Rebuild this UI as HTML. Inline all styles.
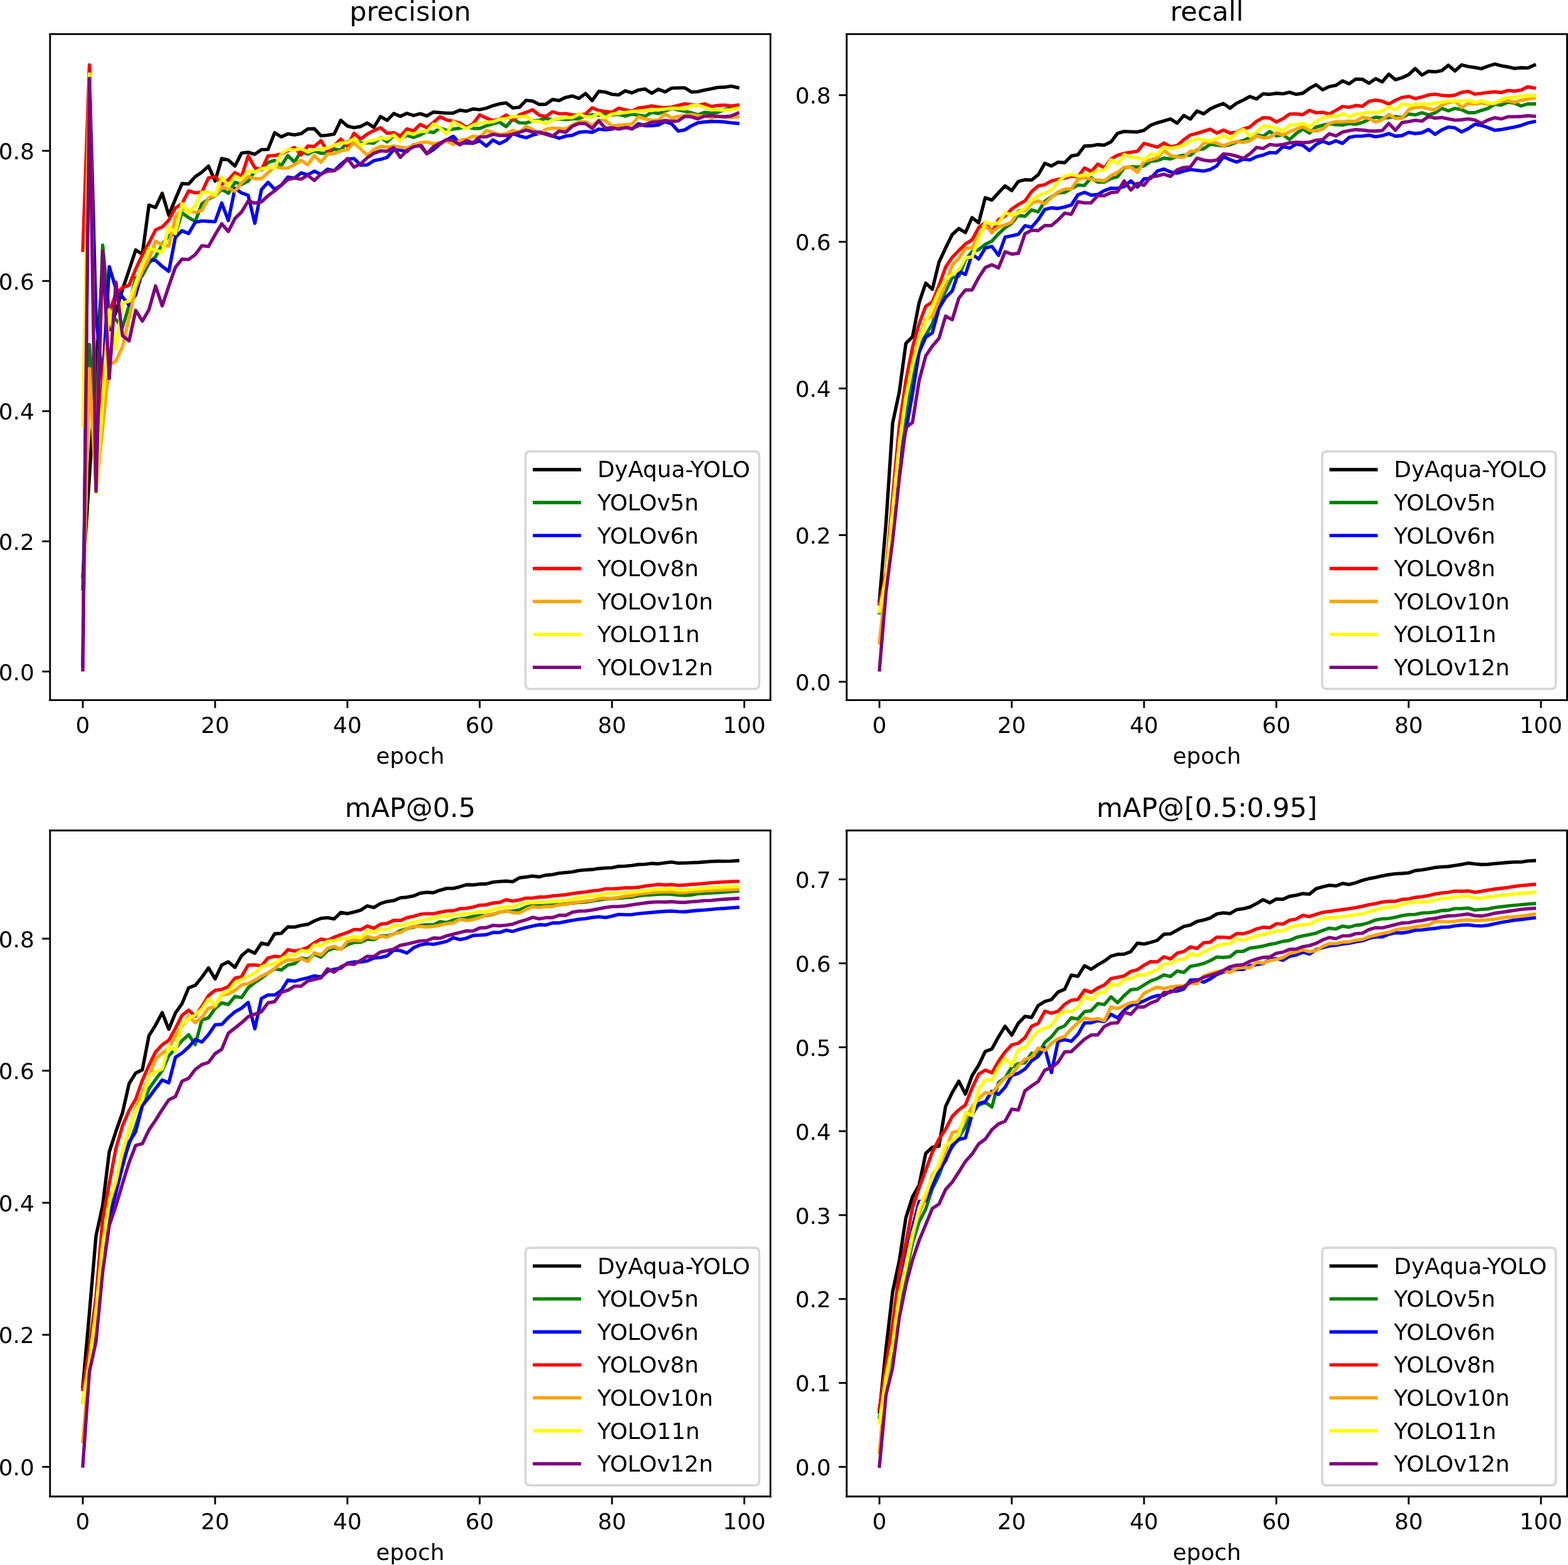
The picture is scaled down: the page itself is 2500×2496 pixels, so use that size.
<!DOCTYPE html>
<html lang="en">
<head>
<meta charset="utf-8">
<title>YOLO training metrics: precision, recall, mAP</title>
<style>
html, body { margin: 0; padding: 0; background: #ffffff; }
body { width: 2500px; height: 2496px; overflow: hidden; font-family: "DejaVu Sans", "Liberation Sans", sans-serif; }
svg { display: block; }
</style>
</head>
<body>
<svg xmlns="http://www.w3.org/2000/svg" width="2500" height="2496" viewBox="11.3610 11.6930 697.9536 696.8369" preserveAspectRatio="none">
 <defs>
  <style type="text/css">*{stroke-linejoin: round; stroke-linecap: butt}</style>
 </defs>
 <g id="figure_1">
  <g id="patch_1">
   <path d="M 0 720 L 720 720 L 720 0 L 0 0 z" style="fill: #ffffff"/>
  </g>
  <g id="axes_1">
   <g id="patch_2">
    <path d="M 33.64 323.44 L 354.30485 323.44 L 354.30485 26.88 L 33.64 26.88 z" style="fill: #ffffff"/>
   </g>
   <g id="matplotlib.axis_1">
    <g id="xtick_1">
     <g id="line2d_1">
      <g>
       <path d="M 0 0 L 0 3.5" transform="translate(48.215675 323.44)" style="stroke: #000000; stroke-width: 0.8"/>
      </g>
     </g>
     <g id="text_1">
      <text style="font-size: 10px; font-family: 'DejaVu Sans', 'Liberation Sans', sans-serif; text-anchor: middle" x="48.215675" y="338.038438">0</text>
     </g>
    </g>
    <g id="xtick_2">
     <g id="line2d_2">
      <g>
       <path d="M 0 0 L 0 3.5" transform="translate(107.107291 323.44)" style="stroke: #000000; stroke-width: 0.8"/>
      </g>
     </g>
     <g id="text_2">
      <text style="font-size: 10px; font-family: 'DejaVu Sans', 'Liberation Sans', sans-serif; text-anchor: middle" x="107.107291" y="338.038438">20</text>
     </g>
    </g>
    <g id="xtick_3">
     <g id="line2d_3">
      <g>
       <path d="M 0 0 L 0 3.5" transform="translate(165.998907 323.44)" style="stroke: #000000; stroke-width: 0.8"/>
      </g>
     </g>
     <g id="text_3">
      <text style="font-size: 10px; font-family: 'DejaVu Sans', 'Liberation Sans', sans-serif; text-anchor: middle" x="165.998907" y="338.038438">40</text>
     </g>
    </g>
    <g id="xtick_4">
     <g id="line2d_4">
      <g>
       <path d="M 0 0 L 0 3.5" transform="translate(224.890523 323.44)" style="stroke: #000000; stroke-width: 0.8"/>
      </g>
     </g>
     <g id="text_4">
      <text style="font-size: 10px; font-family: 'DejaVu Sans', 'Liberation Sans', sans-serif; text-anchor: middle" x="224.890523" y="338.038438">60</text>
     </g>
    </g>
    <g id="xtick_5">
     <g id="line2d_5">
      <g>
       <path d="M 0 0 L 0 3.5" transform="translate(283.782139 323.44)" style="stroke: #000000; stroke-width: 0.8"/>
      </g>
     </g>
     <g id="text_5">
      <text style="font-size: 10px; font-family: 'DejaVu Sans', 'Liberation Sans', sans-serif; text-anchor: middle" x="283.782139" y="338.038438">80</text>
     </g>
    </g>
    <g id="xtick_6">
     <g id="line2d_6">
      <g>
       <path d="M 0 0 L 0 3.5" transform="translate(342.673756 323.44)" style="stroke: #000000; stroke-width: 0.8"/>
      </g>
     </g>
     <g id="text_6">
      <text style="font-size: 10px; font-family: 'DejaVu Sans', 'Liberation Sans', sans-serif; text-anchor: middle" x="342.673756" y="338.038438">100</text>
     </g>
    </g>
    <g id="text_7">
     <text style="font-size: 10px; font-family: 'DejaVu Sans', 'Liberation Sans', sans-serif; text-anchor: middle" x="193.972425" y="351.716563">epoch</text>
    </g>
   </g>
   <g id="matplotlib.axis_2">
    <g id="ytick_1">
     <g id="line2d_7">
      <g>
       <path d="M 0 0 L -3.5 0" transform="translate(33.64 310.695388)" style="stroke: #000000; stroke-width: 0.8"/>
      </g>
     </g>
     <g id="text_8">
      <text style="font-size: 10px; font-family: 'DejaVu Sans', 'Liberation Sans', sans-serif; text-anchor: end" x="26.64" y="314.494607">0.0</text>
     </g>
    </g>
    <g id="ytick_2">
     <g id="line2d_8">
      <g>
       <path d="M 0 0 L -3.5 0" transform="translate(33.64 252.731832)" style="stroke: #000000; stroke-width: 0.8"/>
      </g>
     </g>
     <g id="text_9">
      <text style="font-size: 10px; font-family: 'DejaVu Sans', 'Liberation Sans', sans-serif; text-anchor: end" x="26.64" y="256.531051">0.2</text>
     </g>
    </g>
    <g id="ytick_3">
     <g id="line2d_9">
      <g>
       <path d="M 0 0 L -3.5 0" transform="translate(33.64 194.768276)" style="stroke: #000000; stroke-width: 0.8"/>
      </g>
     </g>
     <g id="text_10">
      <text style="font-size: 10px; font-family: 'DejaVu Sans', 'Liberation Sans', sans-serif; text-anchor: end" x="26.64" y="198.567495">0.4</text>
     </g>
    </g>
    <g id="ytick_4">
     <g id="line2d_10">
      <g>
       <path d="M 0 0 L -3.5 0" transform="translate(33.64 136.804721)" style="stroke: #000000; stroke-width: 0.8"/>
      </g>
     </g>
     <g id="text_11">
      <text style="font-size: 10px; font-family: 'DejaVu Sans', 'Liberation Sans', sans-serif; text-anchor: end" x="26.64" y="140.603939">0.6</text>
     </g>
    </g>
    <g id="ytick_5">
     <g id="line2d_11">
      <g>
       <path d="M 0 0 L -3.5 0" transform="translate(33.64 78.841165)" style="stroke: #000000; stroke-width: 0.8"/>
      </g>
     </g>
     <g id="text_12">
      <text style="font-size: 10px; font-family: 'DejaVu Sans', 'Liberation Sans', sans-serif; text-anchor: end" x="26.64" y="82.640383">0.8</text>
     </g>
    </g>
   </g>
   <g id="line2d_12">
    <path d="M 48.215675 268.381992 L 51.160256 223.750054 L 54.104837 175.350485 L 57.049417 131.008365 L 59.993998 158.541054 L 62.938579 150.715974 L 65.88316 140.572352 L 68.827741 131.877818 L 71.772321 122.980412 L 74.716902 124.922192 L 77.661483 103.0118 L 80.606064 104.097263 L 83.550645 97.765398 L 86.495225 107.534561 L 89.439806 100.298144 L 92.384387 93.423547 L 95.328968 93.604458 L 98.273549 90.34807 L 101.218129 88.358055 L 104.16271 85.644399 L 107.107291 92.338085 L 110.051872 82.279464 L 112.996453 82.930742 L 115.941034 85.644399 L 118.885614 79.855265 L 121.830195 79.493444 L 124.774776 80.397996 L 127.719357 78.299435 L 130.663938 78.227071 L 133.608518 70.809743 L 136.553099 72.618847 L 139.49768 71.28011 L 142.442261 71.763503 L 145.386842 71.220771 L 148.331422 69.099054 L 151.276003 68.990508 L 154.220584 72.174531 L 157.165165 71.885075 L 160.109746 71.378525 L 163.054326 65.22757 L 165.998907 67.832681 L 168.943488 68.556323 L 171.888069 68.013591 L 174.83265 66.457761 L 177.77723 68.375412 L 180.721811 63.563194 L 183.666392 65.299935 L 186.610973 62.224457 L 189.555554 63.49083 L 192.500134 62.152093 L 195.444715 63.129009 L 198.389296 62.296821 L 201.333877 63.30992 L 204.278458 61.609362 L 207.223038 61.851058 L 210.167619 62.068151 L 213.1122 62.02039 L 216.056781 60.754017 L 219.001362 61.188202 L 221.945943 60.211286 L 224.890523 60.536925 L 227.835104 59.849465 L 230.779685 58.764002 L 233.724266 57.931814 L 236.668847 57.497629 L 239.613427 59.740919 L 242.558008 59.487644 L 245.502589 56.412167 L 248.44717 56.665441 L 251.391751 58.185089 L 254.336331 58.112725 L 257.280912 56.014164 L 260.225493 56.484531 L 263.170074 55.037247 L 266.114655 54.422152 L 269.059235 55.507615 L 272.003816 53.318598 L 274.948397 56.484531 L 277.892978 52.395955 L 280.837559 52.685412 L 283.782139 53.662328 L 286.72672 53.951785 L 289.671301 52.142681 L 292.615882 53.047233 L 295.560463 51.78086 L 298.505043 51.310493 L 301.449624 53.228143 L 304.394205 51.419039 L 307.338786 52.613048 L 310.283367 50.948672 L 313.227947 50.803943 L 316.172528 50.803943 L 319.117109 52.685412 L 322.06169 52.504501 L 325.006271 51.78086 L 327.950852 51.238128 L 330.895432 50.586851 L 333.840013 50.514487 L 336.784594 50.044119 L 339.729175 50.695397" clip-path="url(#pc35a1a3ecf)" style="fill: none; stroke: #000000; stroke-width: 1.5; stroke-linecap: square"/>
   </g>
   <g id="line2d_13">
    <path d="M 48.215675 273.88853 L 51.160256 165.061954 L 54.104837 203.46281 L 57.049417 120.864743 L 59.993998 151.29561 L 62.938579 154.019897 L 65.88316 157.49771 L 68.827741 147.701869 L 71.772321 135.355632 L 74.716902 134.486178 L 77.661483 128.881993 L 80.606064 125.987426 L 83.550645 120.560113 L 86.495225 116.580083 L 89.439806 115.856441 L 92.384387 106.449099 L 95.328968 108.620024 L 98.273549 110.248218 L 101.218129 102.469069 L 104.16271 100.298144 L 107.107291 98.85086 L 110.051872 95.956293 L 112.996453 97.765398 L 115.941034 92.880816 L 118.885614 93.785368 L 121.830195 92.338085 L 124.774776 87.996234 L 127.719357 87.091682 L 130.663938 84.016205 L 133.608518 83.111652 L 136.553099 85.463488 L 139.49768 80.940727 L 142.442261 83.884502 L 145.386842 79.090375 L 148.331422 80.315501 L 151.276003 78.868217 L 154.220584 79.95368 L 157.165165 79.772769 L 160.109746 78.144576 L 163.054326 78.506396 L 165.998907 74.888188 L 168.943488 73.983636 L 171.888069 75.430919 L 174.83265 75.250009 L 177.77723 75.430919 L 180.721811 72.898173 L 183.666392 74.888188 L 186.610973 72.174531 L 189.555554 73.440904 L 192.500134 71.993621 L 195.444715 72.898173 L 198.389296 71.81271 L 201.333877 70.184516 L 204.278458 70.727248 L 207.223038 68.671382 L 210.167619 69.756844 L 213.1122 69.148261 L 216.056781 68.786441 L 219.001362 68.062799 L 221.945943 68.894987 L 224.890523 68.894987 L 227.835104 67.700978 L 230.779685 66.796426 L 233.724266 66.072784 L 236.668847 68.062799 L 239.613427 64.806411 L 242.558008 66.362241 L 245.502589 66.434605 L 248.44717 65.530053 L 251.391751 65.168232 L 254.336331 64.44459 L 257.280912 64.987321 L 260.225493 64.625501 L 263.170074 64.987321 L 266.114655 64.625501 L 269.059235 64.44459 L 272.003816 63.322945 L 274.948397 62.816396 L 277.892978 62.997307 L 280.837559 62.454575 L 283.782139 62.816396 L 286.72672 62.635486 L 289.671301 63.359128 L 292.615882 62.454575 L 295.560463 62.997307 L 298.505043 63.467674 L 301.449624 61.730934 L 304.394205 62.273665 L 307.338786 61.188202 L 310.283367 59.921829 L 313.227947 60.645471 L 316.172528 61.188202 L 319.117109 61.911844 L 322.06169 62.816396 L 325.006271 61.730934 L 327.950852 62.092754 L 330.895432 61.730934 L 333.840013 60.464561 L 336.784594 59.921829 L 339.729175 59.560008" clip-path="url(#pc35a1a3ecf)" style="fill: none; stroke: #008000; stroke-width: 1.5; stroke-linecap: square"/>
   </g>
   <g id="line2d_14">
    <path d="M 48.215675 307.79721 L 51.160256 42.613942 L 54.104837 152.744698 L 57.049417 181.146841 L 59.993998 130.428729 L 62.938579 140.282534 L 65.88316 143.905256 L 68.827741 147.614924 L 71.772321 142.948857 L 74.716902 132.747272 L 77.661483 127.434709 L 80.606064 127.61562 L 83.550645 130.329276 L 86.495225 132.500201 L 89.439806 117.303725 L 92.384387 114.409158 L 95.328968 115.675531 L 98.273549 110.610039 L 101.218129 110.067307 L 104.16271 110.248218 L 107.107291 110.429128 L 110.051872 102.107248 L 112.996453 109.886397 L 115.941034 95.594473 L 118.885614 97.584487 L 121.830195 98.66995 L 124.774776 111.15277 L 127.719357 96.137204 L 130.663938 92.880816 L 133.608518 95.956293 L 136.553099 94.147189 L 139.49768 90.52898 L 142.442261 91.030464 L 145.386842 88.678628 L 148.331422 89.541933 L 151.276003 87.913739 L 154.220584 89.361023 L 157.165165 87.009187 L 160.109746 87.732829 L 163.054326 84.838262 L 165.998907 82.486426 L 168.943488 82.305516 L 171.888069 85.200083 L 174.83265 85.127718 L 177.77723 83.210068 L 180.721811 82.667336 L 183.666392 81.762784 L 186.610973 78.325486 L 189.555554 78.506396 L 192.500134 79.230038 L 195.444715 76.154561 L 198.389296 75.79274 L 201.333877 80.13459 L 204.278458 78.325486 L 207.223038 75.817344 L 210.167619 74.008239 L 213.1122 72.404649 L 216.056781 75.480127 L 219.001362 75.299216 L 221.945943 75.480127 L 224.890523 74.394664 L 227.835104 76.7465 L 230.779685 74.032843 L 233.724266 75.661037 L 236.668847 74.213754 L 239.613427 71.138276 L 242.558008 72.223739 L 245.502589 73.019745 L 248.44717 71.861918 L 251.391751 71.065912 L 254.336331 71.065912 L 257.280912 72.223739 L 260.225493 73.236837 L 263.170074 72.296103 L 266.114655 71.934282 L 269.059235 70.595545 L 272.003816 70.287997 L 274.948397 70.595545 L 277.892978 69.148261 L 280.837559 69.510082 L 283.782139 69.148261 L 286.72672 67.447703 L 289.671301 68.062799 L 292.615882 69.148261 L 295.560463 66.796426 L 298.505043 67.700978 L 301.449624 67.700978 L 304.394205 67.339157 L 307.338786 65.891874 L 310.283367 66.796426 L 313.227947 70.052814 L 316.172528 69.510082 L 319.117109 67.700978 L 322.06169 66.362241 L 325.006271 66.00042 L 327.950852 65.783327 L 330.895432 65.783327 L 333.840013 66.00042 L 336.784594 66.362241 L 339.729175 66.615515" clip-path="url(#pc35a1a3ecf)" style="fill: none; stroke: #0000ff; stroke-width: 1.5; stroke-linecap: square"/>
   </g>
   <g id="line2d_15">
    <path d="M 48.215675 123.183285 L 51.160256 40.585218 L 54.104837 223.750054 L 57.049417 180.857023 L 59.993998 150.542083 L 62.938579 142.514131 L 65.88316 139.789844 L 68.827741 138.688536 L 71.772321 131.443092 L 74.716902 125.240991 L 77.661483 119.836471 L 80.606064 114.047337 L 83.550645 112.780964 L 86.495225 109.705486 L 89.439806 104.278173 L 92.384387 102.288159 L 95.328968 96.679935 L 98.273549 97.584487 L 101.218129 97.222666 L 104.16271 90.890801 L 107.107291 90.34807 L 110.051872 93.785368 L 112.996453 91.795353 L 115.941034 88.538966 L 118.885614 90.34807 L 121.830195 81.121638 L 124.774776 86.36804 L 127.719357 87.272593 L 130.663938 81.121638 L 133.608518 81.013091 L 136.553099 80.217086 L 139.49768 78.769802 L 142.442261 77.371726 L 145.386842 80.718569 L 148.331422 76.697292 L 151.276003 76.878203 L 154.220584 74.345456 L 157.165165 79.230038 L 160.109746 76.516382 L 163.054326 73.621815 L 165.998907 76.878203 L 168.943488 71.016704 L 171.888069 73.621815 L 174.83265 71.378525 L 177.77723 69.822696 L 180.721811 68.556323 L 183.666392 71.016704 L 186.610973 70.799612 L 189.555554 72.355442 L 192.500134 69.099054 L 195.444715 69.931242 L 198.389296 67.109039 L 201.333877 68.556323 L 204.278458 66.204487 L 207.223038 63.696345 L 210.167619 65.143628 L 213.1122 65.710963 L 216.056781 66.434605 L 219.001362 68.60553 L 221.945943 66.796426 L 224.890523 62.816396 L 227.835104 64.26368 L 230.779685 65.349142 L 233.724266 64.806411 L 236.668847 62.88876 L 239.613427 65.168232 L 242.558008 62.816396 L 245.502589 61.730934 L 248.44717 60.573107 L 251.391751 62.997307 L 254.336331 63.612402 L 257.280912 61.441477 L 260.225493 62.382211 L 263.170074 62.273665 L 266.114655 62.816396 L 269.059235 62.816396 L 272.003816 62.454575 L 274.948397 59.704737 L 277.892978 60.934928 L 280.837559 61.369113 L 283.782139 61.658569 L 286.72672 59.849465 L 289.671301 60.573107 L 292.615882 61.188202 L 295.560463 59.740919 L 298.505043 59.379098 L 301.449624 58.836367 L 304.394205 59.379098 L 307.338786 59.632373 L 310.283367 59.379098 L 313.227947 58.655456 L 316.172528 57.931814 L 319.117109 58.293635 L 322.06169 58.655456 L 325.006271 57.931814 L 327.950852 59.125823 L 330.895432 58.655456 L 333.840013 58.474546 L 336.784594 58.908731 L 339.729175 58.474546" clip-path="url(#pc35a1a3ecf)" style="fill: none; stroke: #ff0000; stroke-width: 1.5; stroke-linecap: square"/>
   </g>
   <g id="line2d_16">
    <path d="M 48.215675 291.741305 L 51.160256 175.814194 L 54.104837 230.415863 L 57.049417 202.013721 L 59.993998 174.191214 L 62.938579 172.452307 L 65.88316 166.076316 L 68.827741 153.150443 L 71.772321 139.702898 L 74.716902 132.457454 L 77.661483 127.072888 L 80.606064 119.112829 L 83.550645 120.741023 L 86.495225 121.283754 L 89.439806 108.258203 L 92.384387 104.639994 L 95.328968 105.544546 L 98.273549 106.268188 L 101.218129 105.363636 L 104.16271 99.755413 L 107.107291 98.66995 L 110.051872 95.232652 L 112.996453 95.413562 L 115.941034 96.860846 L 118.885614 93.061726 L 121.830195 90.34807 L 124.774776 91.252622 L 127.719357 91.252622 L 130.663938 88.538966 L 133.608518 85.825309 L 136.553099 86.548951 L 139.49768 86.548951 L 142.442261 84.969964 L 145.386842 83.070405 L 148.331422 85.019172 L 151.276003 81.039143 L 154.220584 83.93371 L 157.165165 80.315501 L 160.109746 80.13459 L 163.054326 78.868217 L 165.998907 78.325486 L 168.943488 75.250009 L 171.888069 77.963665 L 174.83265 80.858232 L 177.77723 78.325486 L 180.721811 76.878203 L 183.666392 77.240023 L 186.610973 76.697292 L 189.555554 77.240023 L 192.500134 77.601844 L 195.444715 76.335471 L 198.389296 75.250009 L 201.333877 74.888188 L 204.278458 75.79274 L 207.223038 75.274612 L 210.167619 74.460515 L 213.1122 76.022858 L 216.056781 74.213754 L 219.001362 73.671022 L 221.945943 72.296103 L 224.890523 72.947381 L 227.835104 69.799539 L 230.779685 70.776455 L 233.724266 71.681008 L 236.668847 71.138276 L 239.613427 69.763357 L 242.558008 70.595545 L 245.502589 68.062799 L 248.44717 69.329172 L 251.391751 71.138276 L 254.336331 69.256808 L 257.280912 68.786441 L 260.225493 68.894987 L 263.170074 69.148261 L 266.114655 67.339157 L 269.059235 65.891874 L 272.003816 65.891874 L 274.948397 67.700978 L 277.892978 65.168232 L 280.837559 65.349142 L 283.782139 67.881888 L 286.72672 67.520068 L 289.671301 67.230611 L 292.615882 66.977336 L 295.560463 63.720948 L 298.505043 64.625501 L 301.449624 65.349142 L 304.394205 65.168232 L 307.338786 62.454575 L 310.283367 64.26368 L 313.227947 63.540038 L 316.172528 63.178217 L 319.117109 62.635486 L 322.06169 63.178217 L 325.006271 63.359128 L 327.950852 64.26368 L 330.895432 63.359128 L 333.840013 63.901859 L 336.784594 63.901859 L 339.729175 63.829495" clip-path="url(#pc35a1a3ecf)" style="fill: none; stroke: #ffa500; stroke-width: 1.5; stroke-linecap: square"/>
   </g>
   <g id="line2d_17">
    <path d="M 48.215675 201.289176 L 51.160256 44.642667 L 54.104837 230.995499 L 57.049417 190.131192 L 59.993998 149.556703 L 62.938579 167.11966 L 65.88316 146.658525 L 68.827741 145.789072 L 71.772321 137.732137 L 74.716902 129.704185 L 77.661483 122.188307 L 80.606064 123.092859 L 83.550645 123.997411 L 86.495225 112.600053 L 89.439806 115.675531 L 92.384387 102.288159 L 95.328968 106.630009 L 98.273549 103.192711 L 101.218129 97.222666 L 104.16271 97.403577 L 107.107291 98.66995 L 110.051872 90.52898 L 112.996453 94.68992 L 115.941034 90.167159 L 118.885614 91.433533 L 121.830195 87.815324 L 124.774776 88.358055 L 127.719357 86.910772 L 130.663938 86.36804 L 133.608518 86.259494 L 136.553099 80.036175 L 139.49768 78.227071 L 142.442261 78.547644 L 145.386842 77.824002 L 148.331422 79.410949 L 151.276003 78.325486 L 154.220584 78.144576 L 157.165165 77.601844 L 160.109746 76.335471 L 163.054326 75.430919 L 165.998907 75.250009 L 168.943488 73.440904 L 171.888069 76.516382 L 174.83265 74.526367 L 177.77723 74.164546 L 180.721811 73.079083 L 183.666392 73.621815 L 186.610973 71.81271 L 189.555554 74.526367 L 192.500134 70.727248 L 195.444715 71.450889 L 198.389296 70.184516 L 201.333877 70.184516 L 204.278458 66.928129 L 207.223038 68.671382 L 210.167619 71.385038 L 213.1122 65.891874 L 216.056781 67.520068 L 219.001362 69.039715 L 221.945943 67.339157 L 224.890523 66.434605 L 227.835104 66.253694 L 230.779685 65.891874 L 233.724266 64.806411 L 236.668847 64.553136 L 239.613427 63.540038 L 242.558008 63.720948 L 245.502589 63.467674 L 248.44717 65.638599 L 251.391751 65.710963 L 254.336331 66.86879 L 257.280912 64.987321 L 260.225493 64.44459 L 263.170074 64.082769 L 266.114655 64.082769 L 269.059235 62.273665 L 272.003816 63.775222 L 274.948397 63.720948 L 277.892978 62.165119 L 280.837559 64.082769 L 283.782139 62.454575 L 286.72672 62.273665 L 289.671301 61.730934 L 292.615882 61.369113 L 295.560463 61.188202 L 298.505043 61.007292 L 301.449624 60.826381 L 304.394205 60.464561 L 307.338786 60.28365 L 310.283367 59.849465 L 313.227947 59.994193 L 316.172528 60.211286 L 319.117109 58.655456 L 322.06169 58.54691 L 325.006271 59.560008 L 327.950852 60.464561 L 330.895432 60.573107 L 333.840013 60.754017 L 336.784594 60.573107 L 339.729175 59.921829" clip-path="url(#pc35a1a3ecf)" style="fill: none; stroke: #ffff00; stroke-width: 1.5; stroke-linecap: square"/>
   </g>
   <g id="line2d_18">
    <path d="M 48.215675 309.941862 L 51.160256 46.671391 L 54.104837 230.415863 L 57.049417 123.473103 L 59.993998 180.277387 L 62.938579 137.297411 L 65.88316 161.149414 L 68.827741 163.467956 L 71.772321 149.875502 L 74.716902 154.657496 L 77.661483 149.628801 L 80.606064 138.991268 L 83.550645 147.892061 L 86.495225 139.078105 L 89.439806 130.691097 L 92.384387 127.072888 L 95.328968 127.253799 L 98.273549 125.082873 L 101.218129 121.102844 L 104.16271 121.464665 L 107.107291 116.218262 L 110.051872 111.33368 L 112.996453 114.770979 L 115.941034 108.981845 L 118.885614 106.087278 L 121.830195 101.202696 L 124.774776 102.107248 L 127.719357 101.564517 L 130.663938 98.85086 L 133.608518 96.679935 L 136.553099 94.147189 L 139.49768 91.614443 L 142.442261 90.940009 L 145.386842 91.48274 L 148.331422 89.722843 L 151.276003 92.074679 L 154.220584 89.180112 L 157.165165 87.913739 L 160.109746 87.732829 L 163.054326 85.742814 L 165.998907 82.305516 L 168.943488 86.104635 L 171.888069 84.657351 L 174.83265 81.943695 L 177.77723 79.95368 L 180.721811 78.868217 L 183.666392 79.049128 L 186.610973 77.420934 L 189.555554 81.762784 L 192.500134 78.687307 L 195.444715 77.059113 L 198.389296 76.516382 L 201.333877 80.13459 L 204.278458 77.059113 L 207.223038 75.455523 L 210.167619 73.827329 L 213.1122 74.213754 L 216.056781 76.203768 L 219.001362 74.3223 L 221.945943 75.299216 L 224.890523 72.657924 L 227.835104 72.58556 L 230.779685 71.500097 L 233.724266 72.042828 L 236.668847 72.042828 L 239.613427 71.500097 L 242.558008 70.595545 L 245.502589 69.618629 L 248.44717 70.414634 L 251.391751 70.486999 L 254.336331 71.500097 L 257.280912 72.404649 L 260.225493 70.052814 L 263.170074 70.595545 L 266.114655 67.881888 L 269.059235 66.724062 L 272.003816 66.724062 L 274.948397 68.894987 L 277.892978 65.530053 L 280.837559 68.786441 L 283.782139 68.60553 L 286.72672 69.148261 L 289.671301 68.533166 L 292.615882 68.894987 L 295.560463 67.700978 L 298.505043 67.158247 L 301.449624 66.145148 L 304.394205 65.891874 L 307.338786 65.349142 L 310.283367 65.710963 L 313.227947 65.530053 L 316.172528 63.467674 L 319.117109 63.720948 L 322.06169 64.625501 L 325.006271 63.359128 L 327.950852 63.178217 L 330.895432 63.540038 L 333.840013 63.612402 L 336.784594 63.359128 L 339.729175 62.092754" clip-path="url(#pc35a1a3ecf)" style="fill: none; stroke: #800080; stroke-width: 1.5; stroke-linecap: square"/>
   </g>
   <g id="patch_3">
    <path d="M 33.64 323.44 L 33.64 26.88" style="fill: none; stroke: #000000; stroke-width: 0.8; stroke-linejoin: miter; stroke-linecap: square"/>
   </g>
   <g id="patch_4">
    <path d="M 354.30485 323.44 L 354.30485 26.88" style="fill: none; stroke: #000000; stroke-width: 0.8; stroke-linejoin: miter; stroke-linecap: square"/>
   </g>
   <g id="patch_5">
    <path d="M 33.64 323.44 L 354.30485 323.44" style="fill: none; stroke: #000000; stroke-width: 0.8; stroke-linejoin: miter; stroke-linecap: square"/>
   </g>
   <g id="patch_6">
    <path d="M 33.64 26.88 L 354.30485 26.88" style="fill: none; stroke: #000000; stroke-width: 0.8; stroke-linejoin: miter; stroke-linecap: square"/>
   </g>
   <g id="text_13">
    <text style="font-size: 12px; font-family: 'DejaVu Sans', 'Liberation Sans', sans-serif; text-anchor: middle" x="193.972425" y="20.88">precision</text>
   </g>
   <g id="legend_1">
    <g id="patch_7">
     <path d="M 247.275162 318.44 L 347.30485 318.44 Q 349.30485 318.44 349.30485 316.44 L 349.30485 214.693125 Q 349.30485 212.693125 347.30485 212.693125 L 247.275162 212.693125 Q 245.275162 212.693125 245.275162 214.693125 L 245.275162 316.44 Q 245.275162 318.44 247.275162 318.44 z" style="fill: #ffffff; opacity: 0.8; stroke: #cccccc; stroke-linejoin: miter"/>
    </g>
    <g id="line2d_19">
     <path d="M 249.275162 220.791563 L 259.275162 220.791563 L 269.275162 220.791563" style="fill: none; stroke: #000000; stroke-width: 1.5; stroke-linecap: square"/>
    </g>
    <g id="text_14">
     <text style="font-size: 10px; font-family: 'DejaVu Sans', 'Liberation Sans', sans-serif; text-anchor: start" x="277.275162" y="224.291563">DyAqua-YOLO</text>
    </g>
    <g id="line2d_20">
     <path d="M 249.275162 235.469688 L 259.275162 235.469688 L 269.275162 235.469688" style="fill: none; stroke: #008000; stroke-width: 1.5; stroke-linecap: square"/>
    </g>
    <g id="text_15">
     <text style="font-size: 10px; font-family: 'DejaVu Sans', 'Liberation Sans', sans-serif; text-anchor: start" x="277.275162" y="238.969688">YOLOv5n</text>
    </g>
    <g id="line2d_21">
     <path d="M 249.275162 250.147813 L 259.275162 250.147813 L 269.275162 250.147813" style="fill: none; stroke: #0000ff; stroke-width: 1.5; stroke-linecap: square"/>
    </g>
    <g id="text_16">
     <text style="font-size: 10px; font-family: 'DejaVu Sans', 'Liberation Sans', sans-serif; text-anchor: start" x="277.275162" y="253.647813">YOLOv6n</text>
    </g>
    <g id="line2d_22">
     <path d="M 249.275162 264.825938 L 259.275162 264.825938 L 269.275162 264.825938" style="fill: none; stroke: #ff0000; stroke-width: 1.5; stroke-linecap: square"/>
    </g>
    <g id="text_17">
     <text style="font-size: 10px; font-family: 'DejaVu Sans', 'Liberation Sans', sans-serif; text-anchor: start" x="277.275162" y="268.325938">YOLOv8n</text>
    </g>
    <g id="line2d_23">
     <path d="M 249.275162 279.504063 L 259.275162 279.504063 L 269.275162 279.504063" style="fill: none; stroke: #ffa500; stroke-width: 1.5; stroke-linecap: square"/>
    </g>
    <g id="text_18">
     <text style="font-size: 10px; font-family: 'DejaVu Sans', 'Liberation Sans', sans-serif; text-anchor: start" x="277.275162" y="283.004063">YOLOv10n</text>
    </g>
    <g id="line2d_24">
     <path d="M 249.275162 294.182188 L 259.275162 294.182188 L 269.275162 294.182188" style="fill: none; stroke: #ffff00; stroke-width: 1.5; stroke-linecap: square"/>
    </g>
    <g id="text_19">
     <text style="font-size: 10px; font-family: 'DejaVu Sans', 'Liberation Sans', sans-serif; text-anchor: start" x="277.275162" y="297.682188">YOLO11n</text>
    </g>
    <g id="line2d_25">
     <path d="M 249.275162 308.860313 L 259.275162 308.860313 L 269.275162 308.860313" style="fill: none; stroke: #800080; stroke-width: 1.5; stroke-linecap: square"/>
    </g>
    <g id="text_20">
     <text style="font-size: 10px; font-family: 'DejaVu Sans', 'Liberation Sans', sans-serif; text-anchor: start" x="277.275162" y="312.360313">YOLOv12n</text>
    </g>
   </g>
  </g>
  <g id="axes_2">
   <g id="patch_8">
    <path d="M 388.24 323.44 L 708.90485 323.44 L 708.90485 26.88 L 388.24 26.88 z" style="fill: #ffffff"/>
   </g>
   <g id="matplotlib.axis_3">
    <g id="xtick_7">
     <g id="line2d_26">
      <g>
       <path d="M 0 0 L 0 3.5" transform="translate(402.815675 323.44)" style="stroke: #000000; stroke-width: 0.8"/>
      </g>
     </g>
     <g id="text_21">
      <text style="font-size: 10px; font-family: 'DejaVu Sans', 'Liberation Sans', sans-serif; text-anchor: middle" x="402.815675" y="338.038438">0</text>
     </g>
    </g>
    <g id="xtick_8">
     <g id="line2d_27">
      <g>
       <path d="M 0 0 L 0 3.5" transform="translate(461.707291 323.44)" style="stroke: #000000; stroke-width: 0.8"/>
      </g>
     </g>
     <g id="text_22">
      <text style="font-size: 10px; font-family: 'DejaVu Sans', 'Liberation Sans', sans-serif; text-anchor: middle" x="461.707291" y="338.038438">20</text>
     </g>
    </g>
    <g id="xtick_9">
     <g id="line2d_28">
      <g>
       <path d="M 0 0 L 0 3.5" transform="translate(520.598907 323.44)" style="stroke: #000000; stroke-width: 0.8"/>
      </g>
     </g>
     <g id="text_23">
      <text style="font-size: 10px; font-family: 'DejaVu Sans', 'Liberation Sans', sans-serif; text-anchor: middle" x="520.598907" y="338.038438">40</text>
     </g>
    </g>
    <g id="xtick_10">
     <g id="line2d_29">
      <g>
       <path d="M 0 0 L 0 3.5" transform="translate(579.490523 323.44)" style="stroke: #000000; stroke-width: 0.8"/>
      </g>
     </g>
     <g id="text_24">
      <text style="font-size: 10px; font-family: 'DejaVu Sans', 'Liberation Sans', sans-serif; text-anchor: middle" x="579.490523" y="338.038438">60</text>
     </g>
    </g>
    <g id="xtick_11">
     <g id="line2d_30">
      <g>
       <path d="M 0 0 L 0 3.5" transform="translate(638.382139 323.44)" style="stroke: #000000; stroke-width: 0.8"/>
      </g>
     </g>
     <g id="text_25">
      <text style="font-size: 10px; font-family: 'DejaVu Sans', 'Liberation Sans', sans-serif; text-anchor: middle" x="638.382139" y="338.038438">80</text>
     </g>
    </g>
    <g id="xtick_12">
     <g id="line2d_31">
      <g>
       <path d="M 0 0 L 0 3.5" transform="translate(697.273756 323.44)" style="stroke: #000000; stroke-width: 0.8"/>
      </g>
     </g>
     <g id="text_26">
      <text style="font-size: 10px; font-family: 'DejaVu Sans', 'Liberation Sans', sans-serif; text-anchor: middle" x="697.273756" y="338.038438">100</text>
     </g>
    </g>
    <g id="text_27">
     <text style="font-size: 10px; font-family: 'DejaVu Sans', 'Liberation Sans', sans-serif; text-anchor: middle" x="548.572425" y="351.716563">epoch</text>
    </g>
   </g>
   <g id="matplotlib.axis_4">
    <g id="ytick_6">
     <g id="line2d_32">
      <g>
       <path d="M 0 0 L -3.5 0" transform="translate(388.24 315.246038)" style="stroke: #000000; stroke-width: 0.8"/>
      </g>
     </g>
     <g id="text_28">
      <text style="font-size: 10px; font-family: 'DejaVu Sans', 'Liberation Sans', sans-serif; text-anchor: end" x="381.24" y="319.045257">0.0</text>
     </g>
    </g>
    <g id="ytick_7">
     <g id="line2d_33">
      <g>
       <path d="M 0 0 L -3.5 0" transform="translate(388.24 249.95119)" style="stroke: #000000; stroke-width: 0.8"/>
      </g>
     </g>
     <g id="text_29">
      <text style="font-size: 10px; font-family: 'DejaVu Sans', 'Liberation Sans', sans-serif; text-anchor: end" x="381.24" y="253.750408">0.2</text>
     </g>
    </g>
    <g id="ytick_8">
     <g id="line2d_34">
      <g>
       <path d="M 0 0 L -3.5 0" transform="translate(388.24 184.656341)" style="stroke: #000000; stroke-width: 0.8"/>
      </g>
     </g>
     <g id="text_30">
      <text style="font-size: 10px; font-family: 'DejaVu Sans', 'Liberation Sans', sans-serif; text-anchor: end" x="381.24" y="188.45556">0.4</text>
     </g>
    </g>
    <g id="ytick_9">
     <g id="line2d_35">
      <g>
       <path d="M 0 0 L -3.5 0" transform="translate(388.24 119.361493)" style="stroke: #000000; stroke-width: 0.8"/>
      </g>
     </g>
     <g id="text_31">
      <text style="font-size: 10px; font-family: 'DejaVu Sans', 'Liberation Sans', sans-serif; text-anchor: end" x="381.24" y="123.160711">0.6</text>
     </g>
    </g>
    <g id="ytick_10">
     <g id="line2d_36">
      <g>
       <path d="M 0 0 L -3.5 0" transform="translate(388.24 54.066644)" style="stroke: #000000; stroke-width: 0.8"/>
      </g>
     </g>
     <g id="text_32">
      <text style="font-size: 10px; font-family: 'DejaVu Sans', 'Liberation Sans', sans-serif; text-anchor: end" x="381.24" y="57.865863">0.8</text>
     </g>
    </g>
   </g>
   <g id="line2d_37">
    <path d="M 402.815675 279.170634 L 405.760256 244.401128 L 408.704837 200.000631 L 411.649417 186.288712 L 414.593998 164.578175 L 417.538579 161.672554 L 420.48316 146.458855 L 423.427741 137.77464 L 426.372321 140.484376 L 429.316902 128.502771 L 432.261483 122.139099 L 435.206064 116.169055 L 438.150645 113.455398 L 441.095225 115.264502 L 444.039806 108.570816 L 446.984387 110.922652 L 449.928968 99.706205 L 452.873549 100.791668 L 455.818129 97.53528 L 458.76271 94.459802 L 461.707291 96.558363 L 464.651872 92.469787 L 467.596453 91.746146 L 470.541034 91.854692 L 473.485614 89.575221 L 476.430195 84.401182 L 479.374776 85.595191 L 482.319357 83.894633 L 485.263938 84.147907 L 488.208518 81.144794 L 491.153099 80.638245 L 494.09768 76.73058 L 497.042261 76.611179 L 499.986842 76.10463 L 502.931422 76.310867 L 505.876003 74.863584 L 508.820584 71.064465 L 511.765165 70.232277 L 514.709746 70.340823 L 517.654326 70.449369 L 520.598907 69.725728 L 523.543488 67.446256 L 526.488069 66.360793 L 529.43265 65.528605 L 532.37723 64.660235 L 535.321811 66.541704 L 538.266392 63.104406 L 541.210973 64.7326 L 544.155554 61.114391 L 547.100134 62.380764 L 550.044715 60.209839 L 552.989296 58.871101 L 555.933877 57.785639 L 558.878458 59.848018 L 561.823038 57.659725 L 564.767619 56.266715 L 567.7122 54.675427 L 570.656781 55.760889 L 573.601362 53.481418 L 576.545943 53.69851 L 579.490523 53.228143 L 582.435104 53.481418 L 585.379685 52.757776 L 588.324266 53.69851 L 591.268847 53.228143 L 594.213427 51.057218 L 597.158008 49.429024 L 600.102589 51.672313 L 603.04717 50.261212 L 605.991751 49.718481 L 608.936331 47.692284 L 611.880912 48.994839 L 614.825493 46.896278 L 617.770074 46.968642 L 620.714655 48.777746 L 623.659235 46.715367 L 626.603816 48.174953 L 629.548397 44.737655 L 632.492978 47.174156 L 635.437559 46.305786 L 638.382139 44.930867 L 641.32672 42.21721 L 644.271301 45.111777 L 647.215882 43.411219 L 650.160463 43.664494 L 653.105043 43.121763 L 656.049624 40.769927 L 658.994205 43.302673 L 661.938786 40.589016 L 664.883367 41.312658 L 667.827947 41.746843 L 670.772528 42.289575 L 673.717109 41.131748 L 676.66169 40.227196 L 679.606271 40.950837 L 682.550852 41.493569 L 685.495432 42.144846 L 688.440013 41.85539 L 691.384594 41.963936 L 694.329175 40.697563" clip-path="url(#pb6339436a7)" style="fill: none; stroke: #000000; stroke-width: 1.5; stroke-linecap: square"/>
   </g>
   <g id="line2d_38">
    <path d="M 402.815675 284.557459 L 405.760256 269.539644 L 408.704837 243.421705 L 411.649417 214.039023 L 414.593998 197.845901 L 417.538579 179.759228 L 420.48316 165.296419 L 423.427741 160.954311 L 426.372321 155.89396 L 429.316902 146.850624 L 432.261483 141.361194 L 435.206064 135.345561 L 438.150645 134.802829 L 441.095225 127.385502 L 444.039806 123.767293 L 446.984387 122.862741 L 449.928968 120.510905 L 452.873549 119.063621 L 455.818129 115.807234 L 458.76271 113.093577 L 461.707291 111.103562 L 464.651872 107.485354 L 467.596453 108.028085 L 470.541034 105.133518 L 473.485614 106.03807 L 476.430195 101.334399 L 479.374776 99.344384 L 482.319357 97.53528 L 485.263938 97.354369 L 488.208518 95.726175 L 491.153099 94.097981 L 494.09768 94.278892 L 497.042261 90.812648 L 499.986842 92.802663 L 502.931422 92.773717 L 505.876003 91.145523 L 508.820584 90.421881 L 511.765165 86.441852 L 514.709746 85.89912 L 517.654326 86.080031 L 520.598907 85.5373 L 523.543488 83.547285 L 526.488069 83.185464 L 529.43265 82.100001 L 532.37723 82.461822 L 535.321811 81.37636 L 538.266392 80.833628 L 541.210973 80.833628 L 544.155554 78.481793 L 547.100134 77.939061 L 550.044715 75.949047 L 552.989296 76.310867 L 555.933877 76.672688 L 558.878458 76.129957 L 561.823038 74.990945 L 564.767619 74.267303 L 567.7122 72.947381 L 570.656781 71.681008 L 573.601362 72.404649 L 576.545943 70.233724 L 579.490523 72.223739 L 582.435104 71.681008 L 585.379685 73.851933 L 588.324266 71.138276 L 591.268847 69.148261 L 594.213427 70.957366 L 597.158008 68.243709 L 600.102589 67.520068 L 603.04717 66.796426 L 605.991751 67.230611 L 608.936331 67.339157 L 611.880912 66.724062 L 614.825493 66.977336 L 617.770074 66.253694 L 620.714655 64.806411 L 623.659235 63.901859 L 626.603816 64.149344 L 629.548397 64.095071 L 632.492978 63.564642 L 635.437559 64.107373 L 638.382139 62.479179 L 641.32672 62.841 L 644.271301 61.864084 L 647.215882 62.841 L 650.160463 61.936448 L 653.105043 59.946433 L 656.049624 61.031896 L 658.994205 59.946433 L 661.938786 60.489164 L 664.883367 61.864084 L 667.827947 61.864084 L 670.772528 60.850985 L 673.717109 59.946433 L 676.66169 58.137329 L 679.606271 58.49915 L 682.550852 57.232777 L 685.495432 57.594597 L 688.440013 58.86097 L 691.384594 57.956418 L 694.329175 57.956418" clip-path="url(#pb6339436a7)" style="fill: none; stroke: #008000; stroke-width: 1.5; stroke-linecap: square"/>
   </g>
   <g id="line2d_39">
    <path d="M 402.815675 279.333871 L 405.760256 269.539644 L 408.704837 246.686447 L 411.649417 217.303765 L 414.593998 203.265373 L 417.538579 186.974308 L 420.48316 168.528514 L 423.427741 161.835792 L 426.372321 159.844299 L 429.316902 149.005354 L 432.261483 144.12044 L 435.206064 141.270739 L 438.150645 132.587038 L 441.095225 133.898277 L 444.039806 124.852755 L 446.984387 127.023681 L 449.928968 122.139099 L 452.873549 121.415457 L 455.818129 125.395487 L 458.76271 117.254517 L 461.707291 116.711786 L 464.651872 115.988144 L 467.596453 112.189025 L 470.541034 112.912667 L 473.485614 109.475368 L 476.430195 104.952608 L 479.374776 104.228966 L 482.319357 104.518422 L 485.263938 103.867145 L 488.208518 102.962593 L 491.153099 98.439832 L 494.09768 97.354369 L 497.042261 98.591797 L 499.986842 98.320431 L 502.931422 96.572836 L 505.876003 95.487374 L 508.820584 95.559738 L 511.765165 94.763732 L 514.709746 92.230986 L 517.654326 94.944642 L 520.598907 91.326434 L 523.543488 91.145523 L 526.488069 87.889135 L 529.43265 86.984583 L 532.37723 88.250956 L 535.321811 88.793687 L 538.266392 87.889135 L 541.210973 87.165494 L 544.155554 87.527314 L 547.100134 87.889135 L 550.044715 87.165494 L 552.989296 85.5373 L 555.933877 81.37636 L 558.878458 82.823643 L 561.823038 83.855556 L 564.767619 82.589183 L 567.7122 82.897455 L 570.656781 81.450171 L 573.601362 80.726529 L 576.545943 79.641067 L 579.490523 79.749613 L 582.435104 76.92741 L 585.379685 77.651052 L 588.324266 75.841948 L 591.268847 76.384679 L 594.213427 78.736515 L 597.158008 76.022858 L 600.102589 74.575575 L 603.04717 75.661037 L 605.991751 74.394664 L 608.936331 75.552491 L 611.880912 72.875016 L 614.825493 72.296103 L 617.770074 72.296103 L 620.714655 71.861918 L 623.659235 72.58556 L 626.603816 72.091312 L 629.548397 71.150578 L 632.492978 72.356889 L 635.437559 72.067432 L 638.382139 70.620149 L 641.32672 71.16288 L 644.271301 70.801059 L 647.215882 69.353776 L 650.160463 71.524701 L 653.105043 69.534686 L 656.049624 68.268313 L 658.994205 68.630134 L 661.938786 70.439238 L 664.883367 68.991955 L 667.827947 67.00194 L 670.772528 67.544671 L 673.717109 68.521588 L 676.66169 69.715597 L 679.606271 69.353776 L 682.550852 68.811044 L 685.495432 68.268313 L 688.440013 67.544671 L 691.384594 66.459209 L 694.329175 65.844113" clip-path="url(#pb6339436a7)" style="fill: none; stroke: #0000ff; stroke-width: 1.5; stroke-linecap: square"/>
   </g>
   <g id="line2d_40">
    <path d="M 402.815675 280.639768 L 405.760256 266.601376 L 408.704837 233.072471 L 411.649417 201.469765 L 414.593998 181.195714 L 417.538579 166.373784 L 420.48316 155.89396 L 423.427741 148.091226 L 426.372321 146.132381 L 429.316902 138.884652 L 432.261483 130.641889 L 435.206064 126.300039 L 438.150645 123.224561 L 441.095225 120.329995 L 444.039806 118.52089 L 446.984387 113.093577 L 449.928968 110.741741 L 452.873549 115.264502 L 455.818129 109.475368 L 458.76271 107.847174 L 461.707291 104.771697 L 464.651872 102.781682 L 467.596453 101.153488 L 470.541034 96.992548 L 473.485614 94.459802 L 476.430195 93.917071 L 479.374776 92.288877 L 482.319357 91.565235 L 485.263938 91.022504 L 488.208518 90.117952 L 491.153099 90.479773 L 494.09768 86.499743 L 497.042261 88.098991 L 499.986842 84.752148 L 502.931422 86.441852 L 505.876003 82.461822 L 508.820584 80.833628 L 511.765165 80.00144 L 514.709746 79.494891 L 517.654326 79.024524 L 520.598907 75.514861 L 523.543488 76.383232 L 526.488069 77.21542 L 529.43265 75.406315 L 532.37723 77.034509 L 535.321811 76.491778 L 538.266392 73.959032 L 541.210973 71.788107 L 544.155554 71.064465 L 547.100134 70.159913 L 550.044715 69.25536 L 552.989296 70.955919 L 555.933877 69.617181 L 558.878458 70.955919 L 561.823038 70.558639 L 564.767619 69.111356 L 567.7122 68.243709 L 570.656781 65.710963 L 573.601362 64.082769 L 576.545943 64.26368 L 579.490523 66.00042 L 582.435104 64.553136 L 585.379685 62.454575 L 588.324266 62.382211 L 591.268847 62.744032 L 594.213427 60.826381 L 597.158008 61.911844 L 600.102589 61.730934 L 603.04717 62.454575 L 605.991751 60.826381 L 608.936331 59.125823 L 611.880912 59.487644 L 614.825493 58.655456 L 617.770074 59.017277 L 620.714655 56.846352 L 623.659235 56.231256 L 626.603816 56.768199 L 629.548397 58.034572 L 632.492978 56.328224 L 635.437559 55.061851 L 638.382139 54.627666 L 641.32672 55.604583 L 644.271301 54.880941 L 647.215882 53.976389 L 650.160463 53.614568 L 653.105043 54.157299 L 656.049624 54.410574 L 658.994205 54.048753 L 661.938786 52.818562 L 664.883367 52.348195 L 667.827947 53.614568 L 670.772528 53.252747 L 673.717109 52.818562 L 676.66169 52.601469 L 679.606271 52.890926 L 682.550852 51.986374 L 685.495432 52.239649 L 688.440013 51.805463 L 691.384594 50.35818 L 694.329175 50.900911" clip-path="url(#pb6339436a7)" style="fill: none; stroke: #ff0000; stroke-width: 1.5; stroke-linecap: square"/>
   </g>
   <g id="line2d_41">
    <path d="M 402.815675 298.008198 L 405.760256 270.845541 L 408.704837 238.524591 L 411.649417 209.141909 L 414.593998 187.921084 L 417.538579 172.903268 L 420.48316 162.390798 L 423.427741 154.065705 L 426.372321 152.629218 L 429.316902 145.38149 L 432.261483 138.231444 L 435.206064 129.737337 L 438.150645 126.66186 L 441.095225 122.320009 L 444.039806 121.958188 L 446.984387 116.530875 L 449.928968 112.189025 L 452.873549 115.083592 L 455.818129 112.731756 L 458.76271 111.827204 L 461.707291 110.560831 L 464.651872 105.495339 L 467.596453 105.495339 L 470.541034 102.238951 L 473.485614 101.153488 L 476.430195 102.419861 L 479.374776 99.525294 L 482.319357 97.173459 L 485.263938 95.907086 L 488.208518 95.726175 L 491.153099 91.565235 L 494.09768 90.841594 L 497.042261 91.355379 L 499.986842 91.898111 L 502.931422 92.230986 L 505.876003 89.87915 L 508.820584 88.431867 L 511.765165 86.152395 L 514.709746 86.080031 L 517.654326 88.431867 L 520.598907 83.474921 L 523.543488 82.823643 L 526.488069 81.919091 L 529.43265 78.662703 L 532.37723 81.014539 L 535.321811 81.55727 L 538.266392 81.73818 L 541.210973 79.024524 L 544.155554 79.024524 L 547.100134 75.406315 L 550.044715 74.863584 L 552.989296 75.406315 L 555.933877 76.600324 L 558.878458 75.406315 L 561.823038 74.719579 L 564.767619 75.0814 L 567.7122 74.394664 L 570.656781 72.223739 L 573.601362 73.128291 L 576.545943 72.875016 L 579.490523 70.776455 L 582.435104 71.861918 L 585.379685 70.414634 L 588.324266 69.148261 L 591.268847 68.062799 L 594.213427 69.690993 L 597.158008 70.052814 L 600.102589 69.148261 L 603.04717 66.615515 L 605.991751 65.891874 L 608.936331 65.891874 L 611.880912 65.638599 L 614.825493 65.710963 L 617.770074 63.901859 L 620.714655 64.44459 L 623.659235 66.072784 L 626.603816 64.999623 L 629.548397 62.647788 L 632.492978 64.469194 L 635.437559 64.288284 L 638.382139 60.489164 L 641.32672 59.476066 L 644.271301 59.403702 L 647.215882 60.127344 L 650.160463 60.561529 L 653.105043 58.49915 L 656.049624 57.413687 L 658.994205 56.690045 L 661.938786 59.584612 L 664.883367 57.775508 L 667.827947 57.956418 L 670.772528 57.594597 L 673.717109 58.028782 L 676.66169 57.775508 L 679.606271 56.690045 L 682.550852 56.509135 L 685.495432 57.232777 L 688.440013 56.328224 L 691.384594 55.857857 L 694.329175 55.351308" clip-path="url(#pb6339436a7)" style="fill: none; stroke: #ffa500; stroke-width: 1.5; stroke-linecap: square"/>
   </g>
   <g id="line2d_42">
    <path d="M 402.815675 284.067748 L 405.760256 268.494927 L 408.704837 238.91636 L 411.649417 209.598973 L 414.593998 188.802564 L 417.538579 174.339755 L 420.48316 163.468163 L 423.427741 155.14307 L 426.372321 147.927989 L 429.316902 141.398504 L 432.261483 135.933881 L 435.206064 133.898277 L 438.150645 131.727352 L 441.095225 126.480949 L 444.039806 126.119128 L 446.984387 117.978159 L 449.928968 110.560831 L 452.873549 111.646294 L 455.818129 110.922652 L 458.76271 106.399891 L 461.707291 107.485354 L 464.651872 106.580801 L 467.596453 104.409876 L 470.541034 100.791668 L 473.485614 98.801653 L 476.430195 97.71619 L 479.374776 96.268907 L 482.319357 92.650698 L 485.263938 90.117952 L 488.208518 89.39431 L 491.153099 90.117952 L 494.09768 89.575221 L 497.042261 89.184454 L 499.986842 87.592442 L 502.931422 87.45495 L 505.876003 82.823643 L 508.820584 84.632747 L 511.765165 80.471807 L 514.709746 81.73818 L 517.654326 81.919091 L 520.598907 83.004554 L 523.543488 80.218533 L 526.488069 80.652718 L 529.43265 77.21542 L 532.37723 77.758151 L 535.321811 77.21542 L 538.266392 76.310867 L 541.210973 74.429399 L 544.155554 73.597211 L 547.100134 74.139942 L 550.044715 74.429399 L 552.989296 73.23539 L 555.933877 72.149927 L 558.878458 73.597211 L 561.823038 70.830005 L 564.767619 69.328448 L 567.7122 72.404649 L 570.656781 70.414634 L 573.601362 67.881888 L 576.545943 68.062799 L 579.490523 68.894987 L 582.435104 69.980449 L 585.379685 67.339157 L 588.324266 67.230611 L 591.268847 66.615515 L 594.213427 68.062799 L 597.158008 65.710963 L 600.102589 64.26368 L 603.04717 63.467674 L 605.991751 63.540038 L 608.936331 62.273665 L 611.880912 63.720948 L 614.825493 62.52694 L 617.770074 62.273665 L 620.714655 61.730934 L 623.659235 61.911844 L 626.603816 61.200504 L 629.548397 59.300945 L 632.492978 60.489164 L 635.437559 57.884054 L 638.382139 58.68006 L 641.32672 58.137329 L 644.271301 57.956418 L 647.215882 58.137329 L 650.160463 57.594597 L 653.105043 57.232777 L 656.049624 56.690045 L 658.994205 56.690045 L 661.938786 56.798591 L 664.883367 56.436771 L 667.827947 57.305141 L 670.772528 56.581499 L 673.717109 57.594597 L 676.66169 57.594597 L 679.606271 55.966403 L 682.550852 55.061851 L 685.495432 55.061851 L 688.440013 54.51912 L 691.384594 54.265845 L 694.329175 54.265845" clip-path="url(#pb6339436a7)" style="fill: none; stroke: #ffff00; stroke-width: 1.5; stroke-linecap: square"/>
   </g>
   <g id="line2d_43">
    <path d="M 402.815675 309.957155 L 405.760256 275.220296 L 408.704837 252.301804 L 411.649417 224.812673 L 414.593998 202.024771 L 417.538579 199.837393 L 420.48316 181.195714 L 423.427741 170.160885 L 426.372321 165.818777 L 429.316902 162.390798 L 432.261483 152.44232 L 435.206064 154.070514 L 438.150645 144.482261 L 441.095225 140.818463 L 444.039806 140.818463 L 446.984387 135.300695 L 449.928968 130.8228 L 452.873549 129.556427 L 455.818129 131.00371 L 458.76271 123.767293 L 461.707291 124.852755 L 464.651872 124.490935 L 467.596453 115.807234 L 470.541034 114.17904 L 473.485614 114.35995 L 476.430195 112.116661 L 479.374776 112.116661 L 482.319357 109.656279 L 485.263938 106.580801 L 488.208518 107.123533 L 491.153099 101.515309 L 494.09768 102.058041 L 497.042261 101.992913 L 499.986842 98.808889 L 502.931422 98.816126 L 505.876003 97.477388 L 508.820584 97.115567 L 511.765165 92.230986 L 514.709746 96.283379 L 517.654326 93.316448 L 520.598907 94.221001 L 523.543488 90.421881 L 526.488069 90.06006 L 529.43265 89.264055 L 532.37723 90.240971 L 535.321811 87.346404 L 538.266392 86.260941 L 541.210973 86.080031 L 544.155554 82.100001 L 547.100134 83.004554 L 550.044715 83.366374 L 552.989296 83.004554 L 555.933877 80.218533 L 558.878458 80.471807 L 561.823038 81.232355 L 564.767619 82.227362 L 567.7122 80.183798 L 570.656781 77.361595 L 573.601362 77.831962 L 576.545943 76.022858 L 579.490523 76.384679 L 582.435104 76.022858 L 585.379685 75.299216 L 588.324266 75.045942 L 591.268847 75.19067 L 594.213427 75.045942 L 597.158008 74.105207 L 600.102589 73.851933 L 603.04717 71.21064 L 605.991751 72.223739 L 608.936331 70.486999 L 611.880912 69.871903 L 614.825493 69.401536 L 617.770074 69.618629 L 620.714655 69.980449 L 623.659235 70.052814 L 626.603816 69.829932 L 629.548397 66.627817 L 632.492978 69.715597 L 635.437559 66.278298 L 638.382139 65.844113 L 641.32672 65.2652 L 644.271301 65.627021 L 647.215882 63.564642 L 650.160463 64.288284 L 653.105043 64.035009 L 656.049624 64.650104 L 658.994205 65.192836 L 661.938786 65.011925 L 664.883367 64.650104 L 667.827947 65.120472 L 670.772528 66.640119 L 673.717109 65.120472 L 676.66169 64.107373 L 679.606271 64.650104 L 682.550852 63.673188 L 685.495432 63.673188 L 688.440013 63.564642 L 691.384594 63.202821 L 694.329175 63.456096" clip-path="url(#pb6339436a7)" style="fill: none; stroke: #800080; stroke-width: 1.5; stroke-linecap: square"/>
   </g>
   <g id="patch_9">
    <path d="M 388.24 323.44 L 388.24 26.88" style="fill: none; stroke: #000000; stroke-width: 0.8; stroke-linejoin: miter; stroke-linecap: square"/>
   </g>
   <g id="patch_10">
    <path d="M 708.90485 323.44 L 708.90485 26.88" style="fill: none; stroke: #000000; stroke-width: 0.8; stroke-linejoin: miter; stroke-linecap: square"/>
   </g>
   <g id="patch_11">
    <path d="M 388.24 323.44 L 708.90485 323.44" style="fill: none; stroke: #000000; stroke-width: 0.8; stroke-linejoin: miter; stroke-linecap: square"/>
   </g>
   <g id="patch_12">
    <path d="M 388.24 26.88 L 708.90485 26.88" style="fill: none; stroke: #000000; stroke-width: 0.8; stroke-linejoin: miter; stroke-linecap: square"/>
   </g>
   <g id="text_33">
    <text style="font-size: 12px; font-family: 'DejaVu Sans', 'Liberation Sans', sans-serif; text-anchor: middle" x="548.572425" y="20.88">recall</text>
   </g>
   <g id="legend_2">
    <g id="patch_13">
     <path d="M 601.875162 318.44 L 701.90485 318.44 Q 703.90485 318.44 703.90485 316.44 L 703.90485 214.693125 Q 703.90485 212.693125 701.90485 212.693125 L 601.875162 212.693125 Q 599.875162 212.693125 599.875162 214.693125 L 599.875162 316.44 Q 599.875162 318.44 601.875162 318.44 z" style="fill: #ffffff; opacity: 0.8; stroke: #cccccc; stroke-linejoin: miter"/>
    </g>
    <g id="line2d_44">
     <path d="M 603.875162 220.791563 L 613.875162 220.791563 L 623.875162 220.791563" style="fill: none; stroke: #000000; stroke-width: 1.5; stroke-linecap: square"/>
    </g>
    <g id="text_34">
     <text style="font-size: 10px; font-family: 'DejaVu Sans', 'Liberation Sans', sans-serif; text-anchor: start" x="631.875162" y="224.291563">DyAqua-YOLO</text>
    </g>
    <g id="line2d_45">
     <path d="M 603.875162 235.469688 L 613.875162 235.469688 L 623.875162 235.469688" style="fill: none; stroke: #008000; stroke-width: 1.5; stroke-linecap: square"/>
    </g>
    <g id="text_35">
     <text style="font-size: 10px; font-family: 'DejaVu Sans', 'Liberation Sans', sans-serif; text-anchor: start" x="631.875162" y="238.969688">YOLOv5n</text>
    </g>
    <g id="line2d_46">
     <path d="M 603.875162 250.147813 L 613.875162 250.147813 L 623.875162 250.147813" style="fill: none; stroke: #0000ff; stroke-width: 1.5; stroke-linecap: square"/>
    </g>
    <g id="text_36">
     <text style="font-size: 10px; font-family: 'DejaVu Sans', 'Liberation Sans', sans-serif; text-anchor: start" x="631.875162" y="253.647813">YOLOv6n</text>
    </g>
    <g id="line2d_47">
     <path d="M 603.875162 264.825938 L 613.875162 264.825938 L 623.875162 264.825938" style="fill: none; stroke: #ff0000; stroke-width: 1.5; stroke-linecap: square"/>
    </g>
    <g id="text_37">
     <text style="font-size: 10px; font-family: 'DejaVu Sans', 'Liberation Sans', sans-serif; text-anchor: start" x="631.875162" y="268.325938">YOLOv8n</text>
    </g>
    <g id="line2d_48">
     <path d="M 603.875162 279.504063 L 613.875162 279.504063 L 623.875162 279.504063" style="fill: none; stroke: #ffa500; stroke-width: 1.5; stroke-linecap: square"/>
    </g>
    <g id="text_38">
     <text style="font-size: 10px; font-family: 'DejaVu Sans', 'Liberation Sans', sans-serif; text-anchor: start" x="631.875162" y="283.004063">YOLOv10n</text>
    </g>
    <g id="line2d_49">
     <path d="M 603.875162 294.182188 L 613.875162 294.182188 L 623.875162 294.182188" style="fill: none; stroke: #ffff00; stroke-width: 1.5; stroke-linecap: square"/>
    </g>
    <g id="text_39">
     <text style="font-size: 10px; font-family: 'DejaVu Sans', 'Liberation Sans', sans-serif; text-anchor: start" x="631.875162" y="297.682188">YOLO11n</text>
    </g>
    <g id="line2d_50">
     <path d="M 603.875162 308.860313 L 613.875162 308.860313 L 623.875162 308.860313" style="fill: none; stroke: #800080; stroke-width: 1.5; stroke-linecap: square"/>
    </g>
    <g id="text_40">
     <text style="font-size: 10px; font-family: 'DejaVu Sans', 'Liberation Sans', sans-serif; text-anchor: start" x="631.875162" y="312.360313">YOLOv12n</text>
    </g>
   </g>
  </g>
  <g id="axes_3">
   <g id="patch_14">
    <path d="M 33.64 678.04 L 354.30485 678.04 L 354.30485 381.48 L 33.64 381.48 z" style="fill: #ffffff"/>
   </g>
   <g id="matplotlib.axis_5">
    <g id="xtick_13">
     <g id="line2d_51">
      <g>
       <path d="M 0 0 L 0 3.5" transform="translate(48.215675 678.04)" style="stroke: #000000; stroke-width: 0.8"/>
      </g>
     </g>
     <g id="text_41">
      <text style="font-size: 10px; font-family: 'DejaVu Sans', 'Liberation Sans', sans-serif; text-anchor: middle" x="48.215675" y="692.638438">0</text>
     </g>
    </g>
    <g id="xtick_14">
     <g id="line2d_52">
      <g>
       <path d="M 0 0 L 0 3.5" transform="translate(107.107291 678.04)" style="stroke: #000000; stroke-width: 0.8"/>
      </g>
     </g>
     <g id="text_42">
      <text style="font-size: 10px; font-family: 'DejaVu Sans', 'Liberation Sans', sans-serif; text-anchor: middle" x="107.107291" y="692.638438">20</text>
     </g>
    </g>
    <g id="xtick_15">
     <g id="line2d_53">
      <g>
       <path d="M 0 0 L 0 3.5" transform="translate(165.998907 678.04)" style="stroke: #000000; stroke-width: 0.8"/>
      </g>
     </g>
     <g id="text_43">
      <text style="font-size: 10px; font-family: 'DejaVu Sans', 'Liberation Sans', sans-serif; text-anchor: middle" x="165.998907" y="692.638438">40</text>
     </g>
    </g>
    <g id="xtick_16">
     <g id="line2d_54">
      <g>
       <path d="M 0 0 L 0 3.5" transform="translate(224.890523 678.04)" style="stroke: #000000; stroke-width: 0.8"/>
      </g>
     </g>
     <g id="text_44">
      <text style="font-size: 10px; font-family: 'DejaVu Sans', 'Liberation Sans', sans-serif; text-anchor: middle" x="224.890523" y="692.638438">60</text>
     </g>
    </g>
    <g id="xtick_17">
     <g id="line2d_55">
      <g>
       <path d="M 0 0 L 0 3.5" transform="translate(283.782139 678.04)" style="stroke: #000000; stroke-width: 0.8"/>
      </g>
     </g>
     <g id="text_45">
      <text style="font-size: 10px; font-family: 'DejaVu Sans', 'Liberation Sans', sans-serif; text-anchor: middle" x="283.782139" y="692.638438">80</text>
     </g>
    </g>
    <g id="xtick_18">
     <g id="line2d_56">
      <g>
       <path d="M 0 0 L 0 3.5" transform="translate(342.673756 678.04)" style="stroke: #000000; stroke-width: 0.8"/>
      </g>
     </g>
     <g id="text_46">
      <text style="font-size: 10px; font-family: 'DejaVu Sans', 'Liberation Sans', sans-serif; text-anchor: middle" x="342.673756" y="692.638438">100</text>
     </g>
    </g>
    <g id="text_47">
     <text style="font-size: 10px; font-family: 'DejaVu Sans', 'Liberation Sans', sans-serif; text-anchor: middle" x="193.972425" y="706.316563">epoch</text>
    </g>
   </g>
   <g id="matplotlib.axis_6">
    <g id="ytick_11">
     <g id="line2d_57">
      <g>
       <path d="M 0 0 L -3.5 0" transform="translate(33.64 664.835361)" style="stroke: #000000; stroke-width: 0.8"/>
      </g>
     </g>
     <g id="text_48">
      <text style="font-size: 10px; font-family: 'DejaVu Sans', 'Liberation Sans', sans-serif; text-anchor: end" x="26.64" y="668.63458">0.0</text>
     </g>
    </g>
    <g id="ytick_12">
     <g id="line2d_58">
      <g>
       <path d="M 0 0 L -3.5 0" transform="translate(33.64 606.03703)" style="stroke: #000000; stroke-width: 0.8"/>
      </g>
     </g>
     <g id="text_49">
      <text style="font-size: 10px; font-family: 'DejaVu Sans', 'Liberation Sans', sans-serif; text-anchor: end" x="26.64" y="609.836249">0.2</text>
     </g>
    </g>
    <g id="ytick_13">
     <g id="line2d_59">
      <g>
       <path d="M 0 0 L -3.5 0" transform="translate(33.64 547.238699)" style="stroke: #000000; stroke-width: 0.8"/>
      </g>
     </g>
     <g id="text_50">
      <text style="font-size: 10px; font-family: 'DejaVu Sans', 'Liberation Sans', sans-serif; text-anchor: end" x="26.64" y="551.037917">0.4</text>
     </g>
    </g>
    <g id="ytick_14">
     <g id="line2d_60">
      <g>
       <path d="M 0 0 L -3.5 0" transform="translate(33.64 488.440368)" style="stroke: #000000; stroke-width: 0.8"/>
      </g>
     </g>
     <g id="text_51">
      <text style="font-size: 10px; font-family: 'DejaVu Sans', 'Liberation Sans', sans-serif; text-anchor: end" x="26.64" y="492.239586">0.6</text>
     </g>
    </g>
    <g id="ytick_15">
     <g id="line2d_61">
      <g>
       <path d="M 0 0 L -3.5 0" transform="translate(33.64 429.642036)" style="stroke: #000000; stroke-width: 0.8"/>
      </g>
     </g>
     <g id="text_52">
      <text style="font-size: 10px; font-family: 'DejaVu Sans', 'Liberation Sans', sans-serif; text-anchor: end" x="26.64" y="433.441255">0.8</text>
     </g>
    </g>
   </g>
   <g id="line2d_62">
    <path d="M 48.215675 629.144774 L 51.160256 596.276507 L 54.104837 561.908882 L 57.049417 548.532262 L 59.993998 524.571942 L 62.938579 515.534459 L 65.88316 507.212971 L 68.827741 494.188033 L 71.772321 489.484583 L 74.716902 488.037367 L 77.661483 472.861867 L 80.606064 468.178678 L 83.550645 462.570719 L 86.495225 469.987697 L 89.439806 462.75162 L 92.384387 458.590876 L 95.328968 451.535701 L 98.273549 450.45029 L 101.218129 446.832251 L 104.16271 442.671507 L 107.107291 447.555859 L 110.051872 441.405194 L 112.996453 439.957978 L 115.941034 442.418245 L 118.885614 437.24445 L 121.830195 434.711823 L 124.774776 436.159038 L 127.719357 431.63649 L 130.663938 432.287737 L 133.608518 427.475746 L 136.553099 427.294844 L 139.49768 424.400413 L 142.442261 424.491588 L 145.386842 423.7318 L 148.331422 423.280269 L 151.276003 421.760693 L 154.220584 420.60292 L 157.165165 420.313477 L 160.109746 420.856183 L 163.054326 417.961752 L 165.998907 418.504458 L 168.943488 417.78085 L 171.888069 416.984882 L 174.83265 415.067321 L 177.77723 415.790929 L 180.721811 413.98191 L 183.666392 413.0774 L 186.610973 412.715596 L 189.555554 411.449283 L 192.500134 411.19602 L 195.444715 410.617134 L 198.389296 409.387001 L 201.333877 409.025197 L 204.278458 409.169919 L 207.223038 408.088125 L 210.167619 407.274067 L 213.1122 407.259595 L 216.056781 406.535987 L 219.001362 405.631477 L 221.945943 405.703838 L 224.890523 405.342034 L 227.835104 405.269673 L 230.779685 404.473705 L 233.724266 404.184262 L 236.668847 404.00336 L 239.613427 404.256623 L 242.558008 402.556145 L 245.502589 402.194341 L 248.44717 401.760176 L 251.391751 402.12198 L 254.336331 401.362192 L 257.280912 401.108929 L 260.225493 400.493863 L 263.170074 400.20442 L 266.114655 399.914977 L 269.059235 399.29991 L 272.003816 399.004678 L 274.948397 398.859957 L 277.892978 398.420003 L 280.837559 398.16674 L 283.782139 398.058199 L 286.72672 397.443133 L 289.671301 397.334592 L 292.615882 397.081329 L 295.560463 396.610984 L 298.505043 396.502443 L 301.449624 396.140639 L 304.394205 396.321541 L 307.338786 395.887376 L 310.283367 395.525572 L 313.227947 395.995917 L 316.172528 395.959737 L 319.117109 395.815015 L 322.06169 395.706474 L 325.006271 395.489392 L 327.950852 395.236129 L 330.895432 395.163769 L 333.840013 395.199949 L 336.784594 395.127588 L 339.729175 394.910506" clip-path="url(#pa387249293)" style="fill: none; stroke: #000000; stroke-width: 1.5; stroke-linecap: square"/>
   </g>
   <g id="line2d_63">
    <path d="M 48.215675 636.024179 L 51.160256 619.266654 L 54.104837 598.687238 L 57.049417 573.697948 L 59.993998 554.000507 L 62.938579 541.358866 L 65.88316 529.599199 L 68.827741 521.323321 L 71.772321 513.001832 L 74.716902 503.956736 L 77.661483 496.539757 L 80.606064 492.379013 L 83.550645 488.419432 L 86.495225 481.816512 L 89.439806 478.560277 L 92.384387 475.03269 L 95.328968 472.409612 L 98.273549 476.841709 L 101.218129 465.826953 L 104.16271 464.922443 L 107.107291 460.761699 L 110.051872 458.229072 L 112.996453 458.95268 L 115.941034 455.334642 L 118.885614 455.877347 L 121.830195 451.535701 L 124.774776 449.183976 L 127.719357 447.194055 L 130.663938 445.023232 L 133.608518 443.033311 L 136.553099 443.648378 L 139.49768 441.405194 L 142.442261 440.772761 L 145.386842 438.276314 L 148.331422 438.765473 L 151.276003 436.59465 L 154.220584 437.860963 L 157.165165 434.966533 L 160.109746 433.881121 L 163.054326 434.242925 L 165.998907 432.325365 L 168.943488 431.348494 L 171.888069 431.239953 L 174.83265 429.901279 L 177.77723 430.082181 L 180.721811 428.454064 L 183.666392 428.454064 L 186.610973 427.549554 L 189.555554 426.102339 L 192.500134 425.197829 L 195.444715 424.474221 L 198.389296 423.750614 L 201.333877 423.497351 L 204.278458 423.497351 L 207.223038 422.071844 L 210.167619 422.469828 L 213.1122 421.369944 L 216.056781 420.827239 L 219.001362 420.465435 L 221.945943 419.741827 L 224.890523 419.380023 L 227.835104 419.380023 L 230.779685 418.837317 L 233.724266 417.860447 L 236.668847 417.390102 L 239.613427 417.390102 L 242.558008 416.847396 L 245.502589 415.581083 L 248.44717 414.857475 L 251.391751 414.966016 L 254.336331 414.748934 L 257.280912 414.604213 L 260.225493 414.495671 L 263.170074 414.133868 L 266.114655 413.772064 L 269.059235 413.518801 L 272.003816 413.29593 L 274.948397 412.879855 L 277.892978 412.421812 L 280.837559 411.987647 L 283.782139 411.806745 L 286.72672 411.625843 L 289.671301 411.372581 L 292.615882 411.191679 L 295.560463 410.612793 L 298.505043 410.250989 L 301.449624 410.106267 L 304.394205 409.889185 L 307.338786 409.744463 L 310.283367 409.889185 L 313.227947 410.250989 L 316.172528 410.35953 L 319.117109 410.178628 L 322.06169 409.635922 L 325.006271 409.45502 L 327.950852 409.274118 L 330.895432 409.093216 L 333.840013 408.912315 L 336.784594 408.659052 L 339.729175 408.44197" clip-path="url(#pa387249293)" style="fill: none; stroke: #008000; stroke-width: 1.5; stroke-linecap: square"/>
   </g>
   <g id="line2d_64">
    <path d="M 48.215675 629.144774 L 51.160256 617.796696 L 54.104837 600.157197 L 57.049417 575.167906 L 59.993998 554.58849 L 62.938579 542.828824 L 65.88316 531.069158 L 68.827741 520.237909 L 71.772321 515.534459 L 74.716902 503.956736 L 77.661483 500.338698 L 80.606064 496.358856 L 83.550645 492.559915 L 86.495225 493.826229 L 89.439806 482.449669 L 92.384387 480.550199 L 95.328968 477.927121 L 98.273549 474.489984 L 101.218129 475.665847 L 104.16271 472.319161 L 107.107291 467.997776 L 110.051872 467.816874 L 112.996453 464.741542 L 115.941034 462.208915 L 118.885614 460.580797 L 121.830195 458.04817 L 124.774776 469.806795 L 127.719357 456.239151 L 130.663938 454.719575 L 133.608518 454.719575 L 136.553099 452.802015 L 139.49768 448.098565 L 142.442261 448.551543 L 145.386842 447.773665 L 148.331422 447.086961 L 151.276003 446.182452 L 154.220584 446.725158 L 157.165165 444.192531 L 160.109746 443.288021 L 163.054326 442.745315 L 165.998907 440.574492 L 168.943488 440.031786 L 171.888069 440.031786 L 174.83265 439.561441 L 177.77723 438.222767 L 180.721811 438.041865 L 183.666392 437.318258 L 186.610973 434.71327 L 189.555554 434.966533 L 192.500134 436.051944 L 195.444715 433.700219 L 198.389296 432.433906 L 201.333877 431.8912 L 204.278458 432.180643 L 207.223038 431.569195 L 210.167619 430.881767 L 213.1122 429.221088 L 216.056781 430.053237 L 219.001362 429.43817 L 221.945943 428.244217 L 224.890523 428.063315 L 227.835104 427.882413 L 230.779685 426.905543 L 233.724266 426.905543 L 236.668847 425.892492 L 239.613427 426.435198 L 242.558008 425.458328 L 245.502589 424.73472 L 248.44717 424.011112 L 251.391751 423.432226 L 254.336331 423.540767 L 257.280912 422.636258 L 260.225493 422.636258 L 263.170074 422.021191 L 266.114655 421.478486 L 269.059235 421.008141 L 272.003816 420.749089 L 274.948397 420.206383 L 277.892978 419.874971 L 280.837559 420.236775 L 283.782139 419.585528 L 286.72672 418.86192 L 289.671301 418.970461 L 292.615882 418.934281 L 295.560463 418.500116 L 298.505043 418.210673 L 301.449624 417.957411 L 304.394205 417.704148 L 307.338786 417.487066 L 310.283367 417.342344 L 313.227947 417.595607 L 316.172528 417.704148 L 319.117109 417.342344 L 322.06169 417.052901 L 325.006271 416.871999 L 327.950852 416.618736 L 330.895432 416.329293 L 333.840013 416.148391 L 336.784594 415.895129 L 339.729175 415.714227" clip-path="url(#pa387249293)" style="fill: none; stroke: #0000ff; stroke-width: 1.5; stroke-linecap: square"/>
   </g>
   <g id="line2d_65">
    <path d="M 48.215675 630.438337 L 51.160256 611.622871 L 54.104837 589.044312 L 57.049417 554.676688 L 59.993998 538.74234 L 62.938579 523.13234 L 65.88316 513.001832 L 68.827741 506.127559 L 71.772321 501.062305 L 74.716902 492.740817 L 77.661483 486.067707 L 80.606064 480.097944 L 83.550645 476.93216 L 86.495225 474.851788 L 89.439806 469.625893 L 92.384387 463.764671 L 95.328968 461.485307 L 98.273549 464.198836 L 101.218129 459.85719 L 104.16271 454.972838 L 107.107291 452.621113 L 110.051872 452.259309 L 112.996453 450.992996 L 115.941034 447.266416 L 118.885614 446.470448 L 121.830195 441.405194 L 124.774776 441.332833 L 127.719357 441.766998 L 130.663938 438.22132 L 133.608518 437.497712 L 136.553099 437.787155 L 139.49768 434.530921 L 142.442261 435.164801 L 145.386842 434.567825 L 148.331422 433.519317 L 151.276003 431.529396 L 154.220584 429.792738 L 157.165165 430.443985 L 160.109746 428.996769 L 163.054326 427.911358 L 165.998907 426.898307 L 168.943488 425.559633 L 171.888069 425.668174 L 174.83265 424.003876 L 177.77723 425.016927 L 180.721811 423.207908 L 183.666392 422.846104 L 186.610973 421.471249 L 189.555554 421.579791 L 192.500134 420.313477 L 195.444715 419.698411 L 198.389296 418.793901 L 201.333877 418.504458 L 204.278458 418.576819 L 207.223038 417.856829 L 210.167619 417.314123 L 213.1122 417.2092 L 216.056781 416.304691 L 219.001362 416.123789 L 221.945943 415.581083 L 224.890523 414.748934 L 227.835104 414.604213 L 230.779685 413.772064 L 233.724266 413.518801 L 236.668847 412.324848 L 239.613427 412.939915 L 242.558008 412.324848 L 245.502589 411.601241 L 248.44717 411.601241 L 251.391751 411.130896 L 254.336331 411.058535 L 257.280912 410.62437 L 260.225493 410.334927 L 263.170074 410.081665 L 266.114655 409.538959 L 269.059235 409.177155 L 272.003816 408.845743 L 274.948397 408.357307 L 277.892978 408.080166 L 280.837559 407.465099 L 283.782139 407.465099 L 286.72672 407.284197 L 289.671301 406.994754 L 292.615882 407.030935 L 295.560463 406.741491 L 298.505043 406.198786 L 301.449624 405.909343 L 304.394205 405.475178 L 307.338786 405.764621 L 310.283367 405.547539 L 313.227947 405.909343 L 316.172528 405.764621 L 319.117109 405.475178 L 322.06169 405.294276 L 325.006271 405.041013 L 327.950852 404.75157 L 330.895432 404.570668 L 333.840013 404.389767 L 336.784594 404.208865 L 339.729175 404.136504" clip-path="url(#pa387249293)" style="fill: none; stroke: #ff0000; stroke-width: 1.5; stroke-linecap: square"/>
   </g>
   <g id="line2d_66">
    <path d="M 48.215675 653.575481 L 51.160256 619.266654 L 54.104837 596.629297 L 57.049417 567.230131 L 59.993998 547.53269 L 62.938579 538.124957 L 65.88316 524.579555 L 68.827741 514.810851 L 71.772321 505.042148 L 74.716902 498.529679 L 77.661483 491.293602 L 80.606064 483.173276 L 83.550645 480.64065 L 86.495225 478.379376 L 89.439806 472.882128 L 92.384387 468.540482 L 95.328968 464.198836 L 98.273549 467.093267 L 101.218129 464.56064 L 104.16271 460.580797 L 107.107291 459.85719 L 110.051872 454.611034 L 112.996453 454.24923 L 115.941034 452.621113 L 118.885614 450.269388 L 121.830195 449.654321 L 124.774776 448.098565 L 127.719357 446.289546 L 130.663938 444.950871 L 133.608518 442.852409 L 136.553099 440.500684 L 139.49768 439.053469 L 142.442261 439.235094 L 145.386842 438.457216 L 148.331422 439.850885 L 151.276003 435.943403 L 154.220584 436.956454 L 157.165165 433.881121 L 160.109746 433.048972 L 163.054326 434.496188 L 165.998907 430.805789 L 168.943488 430.263083 L 171.888069 430.624887 L 174.83265 428.707326 L 177.77723 429.539475 L 180.721811 428.562605 L 183.666392 428.996769 L 186.610973 427.368652 L 189.555554 426.898307 L 192.500134 425.197829 L 195.444715 424.112417 L 198.389296 424.220959 L 201.333877 424.474221 L 204.278458 424.220959 L 207.223038 423.645691 L 210.167619 422.958263 L 213.1122 422.636258 L 216.056781 421.008141 L 219.001362 421.550846 L 221.945943 421.189042 L 224.890523 420.284533 L 227.835104 419.199121 L 230.779685 418.656416 L 233.724266 417.932808 L 236.668847 417.2092 L 239.613427 418.11371 L 242.558008 418.222251 L 245.502589 416.666494 L 248.44717 415.400181 L 251.391751 415.761985 L 254.336331 415.400181 L 257.280912 415.32782 L 260.225493 414.604213 L 263.170074 414.38713 L 266.114655 413.591162 L 269.059235 413.301719 L 272.003816 412.934126 L 274.948397 412.608503 L 277.892978 411.806745 L 280.837559 411.625843 L 283.782139 411.734384 L 286.72672 411.264039 L 289.671301 410.721334 L 292.615882 410.540432 L 295.560463 409.744463 L 298.505043 409.38266 L 301.449624 409.093216 L 304.394205 408.912315 L 307.338786 408.803773 L 310.283367 408.803773 L 313.227947 409.165577 L 316.172528 409.093216 L 319.117109 408.731413 L 322.06169 408.550511 L 325.006271 408.369609 L 327.950852 408.188707 L 330.895432 408.007805 L 333.840013 407.935444 L 336.784594 407.826903 L 339.729175 407.646001" clip-path="url(#pa387249293)" style="fill: none; stroke: #ffa500; stroke-width: 1.5; stroke-linecap: square"/>
   </g>
   <g id="line2d_67">
    <path d="M 48.215675 636.053578 L 51.160256 617.796696 L 54.104837 595.218137 L 57.049417 565.907169 L 59.993998 546.356724 L 62.938579 537.301781 L 65.88316 523.855947 L 68.827741 514.087244 L 71.772321 506.127559 L 74.716902 501.424109 L 77.661483 490.931798 L 80.606064 488.871687 L 83.550645 487.695824 L 86.495225 477.474866 L 89.439806 479.555238 L 92.384387 467.45507 L 95.328968 465.284247 L 98.273549 463.65613 L 101.218129 460.942601 L 104.16271 456.600955 L 107.107291 459.314484 L 110.051872 454.24923 L 112.996453 452.982917 L 115.941034 449.183976 L 118.885614 447.917663 L 121.830195 446.289546 L 124.774776 445.095593 L 127.719357 442.056441 L 130.663938 441.224292 L 133.608518 440.681586 L 136.553099 438.510763 L 139.49768 437.063548 L 142.442261 437.064271 L 145.386842 434.839178 L 148.331422 435.509238 L 151.276003 432.433906 L 154.220584 432.79571 L 157.165165 430.805789 L 160.109746 430.624887 L 163.054326 429.720377 L 165.998907 429.539475 L 168.943488 428.707326 L 171.888069 429.286212 L 174.83265 426.174699 L 177.77723 426.825946 L 180.721811 425.559633 L 183.666392 425.559633 L 186.610973 423.750614 L 189.555554 423.931516 L 192.500134 423.027006 L 195.444715 422.303398 L 198.389296 421.688332 L 201.333877 421.037085 L 204.278458 420.675281 L 207.223038 419.629668 L 210.167619 419.702029 L 213.1122 419.199121 L 216.056781 418.837317 L 219.001362 418.475514 L 221.945943 418.294612 L 224.890523 417.571004 L 227.835104 417.498643 L 230.779685 416.666494 L 233.724266 415.834346 L 236.668847 415.581083 L 239.613427 415.472542 L 242.558008 414.495671 L 245.502589 413.663523 L 248.44717 413.591162 L 251.391751 413.518801 L 254.336331 413.41026 L 257.280912 413.229358 L 260.225493 412.795193 L 263.170074 412.686652 L 266.114655 411.963045 L 269.059235 411.420339 L 272.003816 410.926115 L 274.948397 410.52813 L 277.892978 410.35953 L 280.837559 409.635922 L 283.782139 409.38266 L 286.72672 409.274118 L 289.671301 409.165577 L 292.615882 409.020856 L 295.560463 408.659052 L 298.505043 408.261068 L 301.449624 407.935444 L 304.394205 407.646001 L 307.338786 407.57364 L 310.283367 407.465099 L 313.227947 408.007805 L 316.172528 408.007805 L 319.117109 407.646001 L 322.06169 407.465099 L 325.006271 407.211836 L 327.950852 406.994754 L 330.895432 406.813852 L 333.840013 406.63295 L 336.784594 406.488229 L 339.729175 406.379688" clip-path="url(#pa387249293)" style="fill: none; stroke: #ffff00; stroke-width: 1.5; stroke-linecap: square"/>
   </g>
   <g id="line2d_68">
    <path d="M 48.215675 664.453172 L 51.160256 622.500563 L 54.104837 608.976946 L 57.049417 578.19602 L 59.993998 557.381411 L 62.938579 548.708657 L 65.88316 538.771739 L 68.827741 529.283005 L 71.772321 521.685124 L 74.716902 520.961517 L 77.661483 514.810851 L 80.606064 510.469205 L 83.550645 505.765755 L 86.495225 501.424109 L 89.439806 499.976894 L 92.384387 493.102621 L 95.328968 491.836308 L 98.273549 487.876726 L 101.218129 485.705903 L 104.16271 484.765213 L 107.107291 480.821551 L 110.051872 478.922081 L 112.996453 471.776455 L 115.941034 469.444991 L 118.885614 467.093267 L 121.830195 464.379738 L 124.774776 463.294326 L 127.719357 462.208915 L 130.663938 458.229072 L 133.608518 457.686367 L 136.553099 453.525622 L 139.49768 452.621113 L 142.442261 450.812817 L 145.386842 450.812817 L 148.331422 448.534177 L 151.276003 447.810569 L 154.220584 447.086961 L 157.165165 443.107119 L 160.109746 444.554334 L 163.054326 442.202609 L 165.998907 440.863935 L 168.943488 441.117198 L 171.888069 439.308179 L 174.83265 437.49916 L 177.77723 437.607701 L 180.721811 435.581599 L 183.666392 434.966533 L 186.610973 434.242925 L 189.555554 432.614808 L 192.500134 432.072102 L 195.444715 431.348494 L 198.389296 430.624887 L 201.333877 430.516345 L 204.278458 429.358573 L 207.223038 429.470732 L 210.167619 428.385321 L 213.1122 427.629151 L 216.056781 426.905543 L 219.001362 426.181935 L 221.945943 426.254296 L 224.890523 424.879442 L 227.835104 424.73472 L 230.779685 423.721669 L 233.724266 423.902571 L 236.668847 423.649309 L 239.613427 423.178964 L 242.558008 422.093552 L 245.502589 421.261403 L 248.44717 420.175992 L 251.391751 420.827239 L 254.336331 420.284533 L 257.280912 420.284533 L 260.225493 419.199121 L 263.170074 419.307662 L 266.114655 417.860447 L 269.059235 417.390102 L 272.003816 417.311952 L 274.948397 416.895878 L 277.892978 416.329293 L 280.837559 415.786587 L 283.782139 415.352423 L 286.72672 415.316242 L 289.671301 415.06298 L 292.615882 414.592635 L 295.560463 414.15847 L 298.505043 413.724306 L 301.449624 413.434863 L 304.394205 413.253961 L 307.338786 413.362502 L 310.283367 413.145419 L 313.227947 413.434863 L 316.172528 413.507223 L 319.117109 413.1816 L 322.06169 413.000698 L 325.006271 412.711255 L 327.950852 412.638894 L 330.895432 412.27709 L 333.840013 412.096188 L 336.784594 411.915286 L 339.729175 411.734384" clip-path="url(#pa387249293)" style="fill: none; stroke: #800080; stroke-width: 1.5; stroke-linecap: square"/>
   </g>
   <g id="patch_15">
    <path d="M 33.64 678.04 L 33.64 381.48" style="fill: none; stroke: #000000; stroke-width: 0.8; stroke-linejoin: miter; stroke-linecap: square"/>
   </g>
   <g id="patch_16">
    <path d="M 354.30485 678.04 L 354.30485 381.48" style="fill: none; stroke: #000000; stroke-width: 0.8; stroke-linejoin: miter; stroke-linecap: square"/>
   </g>
   <g id="patch_17">
    <path d="M 33.64 678.04 L 354.30485 678.04" style="fill: none; stroke: #000000; stroke-width: 0.8; stroke-linejoin: miter; stroke-linecap: square"/>
   </g>
   <g id="patch_18">
    <path d="M 33.64 381.48 L 354.30485 381.48" style="fill: none; stroke: #000000; stroke-width: 0.8; stroke-linejoin: miter; stroke-linecap: square"/>
   </g>
   <g id="text_53">
    <text style="font-size: 12px; font-family: 'DejaVu Sans', 'Liberation Sans', sans-serif; text-anchor: middle" x="193.972425" y="375.48">mAP@0.5</text>
   </g>
   <g id="legend_3">
    <g id="patch_19">
     <path d="M 247.275162 673.04 L 347.30485 673.04 Q 349.30485 673.04 349.30485 671.04 L 349.30485 569.293125 Q 349.30485 567.293125 347.30485 567.293125 L 247.275162 567.293125 Q 245.275162 567.293125 245.275162 569.293125 L 245.275162 671.04 Q 245.275162 673.04 247.275162 673.04 z" style="fill: #ffffff; opacity: 0.8; stroke: #cccccc; stroke-linejoin: miter"/>
    </g>
    <g id="line2d_69">
     <path d="M 249.275162 575.391563 L 259.275162 575.391563 L 269.275162 575.391563" style="fill: none; stroke: #000000; stroke-width: 1.5; stroke-linecap: square"/>
    </g>
    <g id="text_54">
     <text style="font-size: 10px; font-family: 'DejaVu Sans', 'Liberation Sans', sans-serif; text-anchor: start" x="277.275162" y="578.891563">DyAqua-YOLO</text>
    </g>
    <g id="line2d_70">
     <path d="M 249.275162 590.069688 L 259.275162 590.069688 L 269.275162 590.069688" style="fill: none; stroke: #008000; stroke-width: 1.5; stroke-linecap: square"/>
    </g>
    <g id="text_55">
     <text style="font-size: 10px; font-family: 'DejaVu Sans', 'Liberation Sans', sans-serif; text-anchor: start" x="277.275162" y="593.569688">YOLOv5n</text>
    </g>
    <g id="line2d_71">
     <path d="M 249.275162 604.747813 L 259.275162 604.747813 L 269.275162 604.747813" style="fill: none; stroke: #0000ff; stroke-width: 1.5; stroke-linecap: square"/>
    </g>
    <g id="text_56">
     <text style="font-size: 10px; font-family: 'DejaVu Sans', 'Liberation Sans', sans-serif; text-anchor: start" x="277.275162" y="608.247813">YOLOv6n</text>
    </g>
    <g id="line2d_72">
     <path d="M 249.275162 619.425938 L 259.275162 619.425938 L 269.275162 619.425938" style="fill: none; stroke: #ff0000; stroke-width: 1.5; stroke-linecap: square"/>
    </g>
    <g id="text_57">
     <text style="font-size: 10px; font-family: 'DejaVu Sans', 'Liberation Sans', sans-serif; text-anchor: start" x="277.275162" y="622.925938">YOLOv8n</text>
    </g>
    <g id="line2d_73">
     <path d="M 249.275162 634.104063 L 259.275162 634.104063 L 269.275162 634.104063" style="fill: none; stroke: #ffa500; stroke-width: 1.5; stroke-linecap: square"/>
    </g>
    <g id="text_58">
     <text style="font-size: 10px; font-family: 'DejaVu Sans', 'Liberation Sans', sans-serif; text-anchor: start" x="277.275162" y="637.604063">YOLOv10n</text>
    </g>
    <g id="line2d_74">
     <path d="M 249.275162 648.782188 L 259.275162 648.782188 L 269.275162 648.782188" style="fill: none; stroke: #ffff00; stroke-width: 1.5; stroke-linecap: square"/>
    </g>
    <g id="text_59">
     <text style="font-size: 10px; font-family: 'DejaVu Sans', 'Liberation Sans', sans-serif; text-anchor: start" x="277.275162" y="652.282188">YOLO11n</text>
    </g>
    <g id="line2d_75">
     <path d="M 249.275162 663.460313 L 259.275162 663.460313 L 269.275162 663.460313" style="fill: none; stroke: #800080; stroke-width: 1.5; stroke-linecap: square"/>
    </g>
    <g id="text_60">
     <text style="font-size: 10px; font-family: 'DejaVu Sans', 'Liberation Sans', sans-serif; text-anchor: start" x="277.275162" y="666.960313">YOLOv12n</text>
    </g>
   </g>
  </g>
  <g id="axes_4">
   <g id="patch_20">
    <path d="M 388.24 678.04 L 708.90485 678.04 L 708.90485 381.48 L 388.24 381.48 z" style="fill: #ffffff"/>
   </g>
   <g id="matplotlib.axis_7">
    <g id="xtick_19">
     <g id="line2d_76">
      <g>
       <path d="M 0 0 L 0 3.5" transform="translate(402.815675 678.04)" style="stroke: #000000; stroke-width: 0.8"/>
      </g>
     </g>
     <g id="text_61">
      <text style="font-size: 10px; font-family: 'DejaVu Sans', 'Liberation Sans', sans-serif; text-anchor: middle" x="402.815675" y="692.638438">0</text>
     </g>
    </g>
    <g id="xtick_20">
     <g id="line2d_77">
      <g>
       <path d="M 0 0 L 0 3.5" transform="translate(461.707291 678.04)" style="stroke: #000000; stroke-width: 0.8"/>
      </g>
     </g>
     <g id="text_62">
      <text style="font-size: 10px; font-family: 'DejaVu Sans', 'Liberation Sans', sans-serif; text-anchor: middle" x="461.707291" y="692.638438">20</text>
     </g>
    </g>
    <g id="xtick_21">
     <g id="line2d_78">
      <g>
       <path d="M 0 0 L 0 3.5" transform="translate(520.598907 678.04)" style="stroke: #000000; stroke-width: 0.8"/>
      </g>
     </g>
     <g id="text_63">
      <text style="font-size: 10px; font-family: 'DejaVu Sans', 'Liberation Sans', sans-serif; text-anchor: middle" x="520.598907" y="692.638438">40</text>
     </g>
    </g>
    <g id="xtick_22">
     <g id="line2d_79">
      <g>
       <path d="M 0 0 L 0 3.5" transform="translate(579.490523 678.04)" style="stroke: #000000; stroke-width: 0.8"/>
      </g>
     </g>
     <g id="text_64">
      <text style="font-size: 10px; font-family: 'DejaVu Sans', 'Liberation Sans', sans-serif; text-anchor: middle" x="579.490523" y="692.638438">60</text>
     </g>
    </g>
    <g id="xtick_23">
     <g id="line2d_80">
      <g>
       <path d="M 0 0 L 0 3.5" transform="translate(638.382139 678.04)" style="stroke: #000000; stroke-width: 0.8"/>
      </g>
     </g>
     <g id="text_65">
      <text style="font-size: 10px; font-family: 'DejaVu Sans', 'Liberation Sans', sans-serif; text-anchor: middle" x="638.382139" y="692.638438">80</text>
     </g>
    </g>
    <g id="xtick_24">
     <g id="line2d_81">
      <g>
       <path d="M 0 0 L 0 3.5" transform="translate(697.273756 678.04)" style="stroke: #000000; stroke-width: 0.8"/>
      </g>
     </g>
     <g id="text_66">
      <text style="font-size: 10px; font-family: 'DejaVu Sans', 'Liberation Sans', sans-serif; text-anchor: middle" x="697.273756" y="692.638438">100</text>
     </g>
    </g>
    <g id="text_67">
     <text style="font-size: 10px; font-family: 'DejaVu Sans', 'Liberation Sans', sans-serif; text-anchor: middle" x="548.572425" y="706.316563">epoch</text>
    </g>
   </g>
   <g id="matplotlib.axis_8">
    <g id="ytick_16">
     <g id="line2d_82">
      <g>
       <path d="M 0 0 L -3.5 0" transform="translate(388.24 664.835361)" style="stroke: #000000; stroke-width: 0.8"/>
      </g>
     </g>
     <g id="text_68">
      <text style="font-size: 10px; font-family: 'DejaVu Sans', 'Liberation Sans', sans-serif; text-anchor: end" x="381.24" y="668.63458">0.0</text>
     </g>
    </g>
    <g id="ytick_17">
     <g id="line2d_83">
      <g>
       <path d="M 0 0 L -3.5 0" transform="translate(388.24 627.465953)" style="stroke: #000000; stroke-width: 0.8"/>
      </g>
     </g>
     <g id="text_69">
      <text style="font-size: 10px; font-family: 'DejaVu Sans', 'Liberation Sans', sans-serif; text-anchor: end" x="381.24" y="631.265172">0.1</text>
     </g>
    </g>
    <g id="ytick_18">
     <g id="line2d_84">
      <g>
       <path d="M 0 0 L -3.5 0" transform="translate(388.24 590.096546)" style="stroke: #000000; stroke-width: 0.8"/>
      </g>
     </g>
     <g id="text_70">
      <text style="font-size: 10px; font-family: 'DejaVu Sans', 'Liberation Sans', sans-serif; text-anchor: end" x="381.24" y="593.895765">0.2</text>
     </g>
    </g>
    <g id="ytick_19">
     <g id="line2d_85">
      <g>
       <path d="M 0 0 L -3.5 0" transform="translate(388.24 552.727138)" style="stroke: #000000; stroke-width: 0.8"/>
      </g>
     </g>
     <g id="text_71">
      <text style="font-size: 10px; font-family: 'DejaVu Sans', 'Liberation Sans', sans-serif; text-anchor: end" x="381.24" y="556.526357">0.3</text>
     </g>
    </g>
    <g id="ytick_20">
     <g id="line2d_86">
      <g>
       <path d="M 0 0 L -3.5 0" transform="translate(388.24 515.357731)" style="stroke: #000000; stroke-width: 0.8"/>
      </g>
     </g>
     <g id="text_72">
      <text style="font-size: 10px; font-family: 'DejaVu Sans', 'Liberation Sans', sans-serif; text-anchor: end" x="381.24" y="519.15695">0.4</text>
     </g>
    </g>
    <g id="ytick_21">
     <g id="line2d_87">
      <g>
       <path d="M 0 0 L -3.5 0" transform="translate(388.24 477.988323)" style="stroke: #000000; stroke-width: 0.8"/>
      </g>
     </g>
     <g id="text_73">
      <text style="font-size: 10px; font-family: 'DejaVu Sans', 'Liberation Sans', sans-serif; text-anchor: end" x="381.24" y="481.787542">0.5</text>
     </g>
    </g>
    <g id="ytick_22">
     <g id="line2d_88">
      <g>
       <path d="M 0 0 L -3.5 0" transform="translate(388.24 440.618916)" style="stroke: #000000; stroke-width: 0.8"/>
      </g>
     </g>
     <g id="text_74">
      <text style="font-size: 10px; font-family: 'DejaVu Sans', 'Liberation Sans', sans-serif; text-anchor: end" x="381.24" y="444.418135">0.6</text>
     </g>
    </g>
    <g id="ytick_23">
     <g id="line2d_89">
      <g>
       <path d="M 0 0 L -3.5 0" transform="translate(388.24 403.249508)" style="stroke: #000000; stroke-width: 0.8"/>
      </g>
     </g>
     <g id="text_75">
      <text style="font-size: 10px; font-family: 'DejaVu Sans', 'Liberation Sans', sans-serif; text-anchor: end" x="381.24" y="407.048727">0.7</text>
     </g>
    </g>
   </g>
   <g id="line2d_90">
    <path d="M 402.815675 640.28366 L 405.760256 612.144496 L 408.704837 586.845408 L 411.649417 573.093466 L 414.593998 553.88559 L 417.538579 544.58586 L 420.48316 539.339705 L 423.427741 525.229355 L 426.372321 522.515826 L 429.316902 521.97312 L 432.261483 504.355444 L 435.206064 498.204779 L 438.150645 493.103345 L 441.095225 498.837935 L 444.039806 490.697349 L 446.984387 486.01416 L 449.928968 479.863495 L 452.873549 478.778083 L 455.818129 473.351026 L 458.76271 468.647576 L 461.707291 472.627418 L 464.651872 467.272721 L 467.596453 464.233569 L 470.541034 464.740094 L 473.485614 459.421578 L 476.430195 457.612559 L 479.374776 456.78041 L 482.319357 453.451815 L 485.263938 452.185501 L 488.208518 445.853934 L 491.153099 446.39664 L 494.09768 441.69319 L 497.042261 443.280061 L 499.986842 441.29014 L 502.931422 439.620777 L 505.876003 437.449954 L 508.820584 436.617805 L 511.765165 436.545445 L 514.709746 435.387672 L 517.654326 431.661093 L 520.598907 432.022897 L 523.543488 431.299289 L 526.488069 430.394779 L 529.43265 427.681251 L 532.37723 427.500349 L 535.321811 425.872231 L 538.266392 424.244114 L 541.210973 423.592867 L 544.155554 422.00093 L 547.100134 421.349683 L 550.044715 420.445174 L 552.989296 418.636155 L 555.933877 418.16581 L 558.878458 418.455253 L 561.823038 416.716423 L 564.767619 416.35462 L 567.7122 415.55648 L 570.656781 414.036904 L 573.601362 412.300246 L 576.545943 413.6751 L 579.490523 412.010803 L 582.435104 412.119344 L 585.379685 410.78067 L 588.324266 410.310325 L 591.268847 409.586717 L 594.213427 409.83998 L 597.158008 407.415894 L 600.102589 406.583745 L 603.04717 405.860137 L 605.991751 406.14958 L 608.936331 405.064169 L 611.880912 405.534514 L 614.825493 404.774726 L 617.770074 403.689314 L 620.714655 402.893346 L 623.659235 402.35064 L 626.603816 401.705906 L 629.548397 401.14511 L 632.492978 400.771728 L 635.437559 400.590826 L 638.382139 400.337564 L 641.32672 399.324513 L 644.271301 399.03507 L 647.215882 398.528544 L 650.160463 397.949658 L 653.105043 397.696395 L 656.049624 397.515494 L 658.994205 397.081329 L 661.938786 396.610984 L 664.883367 395.995917 L 667.827947 396.357721 L 670.772528 396.610984 L 673.717109 396.538623 L 676.66169 396.24918 L 679.606271 395.995917 L 682.550852 395.706474 L 685.495432 395.525572 L 688.440013 395.525572 L 691.384594 395.055227 L 694.329175 394.910506" clip-path="url(#pfe5fba59b9)" style="fill: none; stroke: #000000; stroke-width: 1.5; stroke-linecap: square"/>
   </g>
   <g id="line2d_91">
    <path d="M 402.815675 642.82478 L 405.760256 625.597483 L 408.704837 612.51819 L 411.649417 591.180259 L 414.593998 578.51203 L 417.538579 565.133782 L 420.48316 555.716691 L 423.427741 550.012918 L 426.372321 540.967822 L 429.316902 535.17896 L 432.261483 526.857472 L 435.206064 522.515826 L 438.150645 518.355082 L 441.095225 513.289828 L 444.039806 506.958261 L 446.984387 503.722287 L 449.928968 502.546425 L 452.873549 504.626797 L 455.818129 493.682231 L 458.76271 491.601859 L 461.707291 486.898409 L 464.651872 485.290552 L 467.596453 484.928749 L 470.541034 480.659463 L 473.485614 481.129808 L 476.430195 475.883653 L 479.374776 473.351026 L 482.319357 469.732987 L 485.263938 468.466674 L 488.208518 464.848635 L 491.153099 465.463702 L 494.09768 462.135107 L 497.042261 461.732057 L 499.986842 458.566274 L 502.931422 458.977283 L 505.876003 455.540146 L 508.820584 458.181314 L 511.765165 454.997441 L 514.709746 452.392453 L 517.654326 452.10301 L 520.598907 450.293991 L 523.543488 448.484971 L 526.488069 447.39956 L 529.43265 445.771443 L 532.37723 446.49505 L 535.321811 444.070965 L 538.266392 444.686031 L 541.210973 441.972502 L 544.155554 441.429796 L 547.100134 440.706189 L 550.044715 439.439875 L 552.989296 437.811758 L 555.933877 437.99266 L 558.878458 437.703217 L 561.823038 435.331231 L 564.767619 435.27696 L 567.7122 433.827574 L 570.656781 433.46577 L 573.601362 432.923065 L 576.545943 432.199457 L 579.490523 431.656751 L 582.435104 430.824602 L 585.379685 430.390438 L 588.324266 429.124124 L 591.268847 428.400517 L 594.213427 427.857811 L 597.158008 427.206564 L 600.102589 425.976431 L 603.04717 424.96338 L 605.991751 425.325184 L 608.936331 424.058871 L 611.880912 424.529215 L 614.825493 423.697067 L 617.770074 423.335263 L 620.714655 422.503114 L 623.659235 421.345342 L 626.603816 420.827239 L 629.548397 420.646337 L 632.492978 420.128234 L 635.437559 419.404626 L 638.382139 418.934281 L 641.32672 418.86192 L 644.271301 418.210673 L 647.215882 418.065952 L 650.160463 417.776509 L 653.105043 417.125262 L 656.049624 416.98054 L 658.994205 416.256932 L 661.938786 416.256932 L 664.883367 415.967489 L 667.827947 416.871999 L 670.772528 416.618736 L 673.717109 416.401654 L 676.66169 415.786587 L 679.606271 415.424784 L 682.550852 415.06298 L 685.495432 414.809717 L 688.440013 414.520274 L 691.384594 414.230831 L 694.329175 414.049929" clip-path="url(#pfe5fba59b9)" style="fill: none; stroke: #008000; stroke-width: 1.5; stroke-linecap: square"/>
   </g>
   <g id="line2d_92">
    <path d="M 402.815675 638.676776 L 405.760256 623.729013 L 408.704837 608.78125 L 411.649417 586.359605 L 414.593998 571.411842 L 417.538579 558.257811 L 420.48316 546.635925 L 423.427741 546.394879 L 426.372321 539.88241 L 429.316902 533.008137 L 432.261483 528.485589 L 435.206064 521.611316 L 438.150645 519.07869 L 441.095225 518.355082 L 444.039806 508.043672 L 446.984387 503.03486 L 449.928968 502.275072 L 452.873549 497.607802 L 455.818129 499.018837 L 458.76271 495.798783 L 461.707291 490.516447 L 464.651872 489.611938 L 467.596453 487.712467 L 470.541034 484.024239 L 473.485614 482.034318 L 476.430195 478.235378 L 479.374776 489.270395 L 482.319357 475.340947 L 485.263938 474.617339 L 488.208518 475.340947 L 491.153099 472.265614 L 494.09768 467.128 L 497.042261 467.122934 L 499.986842 466.127974 L 502.931422 466.575163 L 505.876003 463.318929 L 508.820584 464.947046 L 511.765165 461.50991 L 514.709746 459.411447 L 517.654326 458.615479 L 520.598907 457.349165 L 523.543488 455.90195 L 526.488069 454.997441 L 529.43265 454.816539 L 532.37723 453.007519 L 535.321811 453.007519 L 538.266392 452.10301 L 541.210973 448.123168 L 544.155554 447.942266 L 547.100134 449.027677 L 550.044715 447.580462 L 552.989296 445.590541 L 555.933877 444.505129 L 558.878458 443.781521 L 561.823038 443.417547 L 564.767619 443.345186 L 567.7122 441.606357 L 570.656781 441.244553 L 573.601362 440.701847 L 576.545943 438.892828 L 579.490523 438.531024 L 582.435104 439.254632 L 585.379685 437.445613 L 588.324266 436.902907 L 591.268847 435.636593 L 594.213427 436.541103 L 597.158008 434.551182 L 600.102589 433.646672 L 603.04717 432.850704 L 605.991751 432.561261 L 608.936331 432.018555 L 611.880912 431.656751 L 614.825493 431.041685 L 617.770074 430.57134 L 620.714655 429.485928 L 623.659235 428.870862 L 626.603816 428.877374 L 629.548397 427.701512 L 632.492978 427.002507 L 635.437559 427.111048 L 638.382139 426.640703 L 641.32672 425.917095 L 644.271301 425.736193 L 647.215882 425.374389 L 650.160463 425.084946 L 653.105043 424.578421 L 656.049624 424.46988 L 658.994205 423.927174 L 661.938786 423.637731 L 664.883367 423.493009 L 667.827947 423.854813 L 670.772528 423.999535 L 673.717109 423.637731 L 676.66169 423.022664 L 679.606271 422.407598 L 682.550852 421.937253 L 685.495432 421.394547 L 688.440013 421.105104 L 691.384594 420.7433 L 694.329175 420.381496" clip-path="url(#pfe5fba59b9)" style="fill: none; stroke: #0000ff; stroke-width: 1.5; stroke-linecap: square"/>
   </g>
   <g id="line2d_93">
    <path d="M 402.815675 639.0131 L 405.760256 619.50627 L 408.704837 601.307368 L 411.649417 578.138336 L 414.593998 565.133782 L 417.538579 549.363892 L 420.48316 540.606018 L 423.427741 532.646334 L 426.372321 524.686649 L 429.316902 518.897788 L 432.261483 514.556142 L 435.206064 508.76728 L 438.150645 505.87502 L 441.095225 503.686107 L 444.039806 496.214858 L 446.984387 489.973741 L 449.928968 488.200903 L 452.873549 489.394855 L 455.818129 484.205141 L 458.76271 480.044397 L 461.707291 476.969064 L 464.651872 476.173096 L 467.596453 473.71283 L 470.541034 468.647576 L 473.485614 467.381262 L 476.430195 461.954205 L 479.374776 462.858714 L 482.319357 461.954205 L 485.263938 458.878872 L 488.208518 457.069853 L 491.153099 456.708049 L 494.09768 452.547305 L 497.042261 453.5372 L 499.986842 451.60155 L 502.931422 450.293991 L 505.876003 447.39956 L 508.820584 446.856854 L 511.765165 446.241788 L 514.709746 444.215686 L 517.654326 443.492078 L 520.598907 441.429796 L 523.543488 439.87404 L 526.488069 439.982581 L 529.43265 437.703217 L 532.37723 438.716268 L 535.321811 436.11128 L 538.266392 435.387672 L 541.210973 433.28921 L 544.155554 434.012818 L 547.100134 431.480191 L 550.044715 431.190748 L 552.989296 428.947564 L 555.933877 429.019925 L 558.878458 429.309368 L 561.823038 427.371546 L 564.767619 427.461997 L 567.7122 426.591497 L 570.656781 425.325184 L 573.601362 424.529215 L 576.545943 424.782478 L 579.490523 422.973459 L 582.435104 423.154361 L 585.379685 421.417702 L 588.324266 420.911177 L 591.268847 419.246879 L 594.213427 419.825766 L 597.158008 418.812715 L 600.102589 417.908205 L 603.04717 417.546401 L 605.991751 417.076056 L 608.936331 416.714253 L 611.880912 416.280088 L 614.825493 415.845923 L 617.770074 415.194676 L 620.714655 414.543429 L 623.659235 414.036904 L 626.603816 413.337899 L 629.548397 413.012276 L 632.492978 413.000698 L 635.437559 412.168549 L 638.382139 411.915286 L 641.32672 411.264039 L 644.271301 410.974596 L 647.215882 410.468071 L 650.160463 409.744463 L 653.105043 409.274118 L 656.049624 409.020856 L 658.994205 408.44197 L 661.938786 408.550511 L 664.883367 408.369609 L 667.827947 409.020856 L 670.772528 408.550511 L 673.717109 408.007805 L 676.66169 407.57364 L 679.606271 407.211836 L 682.550852 406.850033 L 685.495432 406.379688 L 688.440013 406.017884 L 691.384594 405.764621 L 694.329175 405.475178" clip-path="url(#pfe5fba59b9)" style="fill: none; stroke: #ff0000; stroke-width: 1.5; stroke-linecap: square"/>
   </g>
   <g id="line2d_94">
    <path d="M 402.815675 658.370454 L 405.760256 625.597483 L 408.704837 609.528638 L 411.649417 587.854382 L 414.593998 574.401395 L 417.538579 560.574714 L 420.48316 552.091859 L 423.427741 544.58586 L 426.372321 534.817157 L 429.316902 531.199118 L 432.261483 524.324845 L 435.206064 516.003357 L 438.150645 515.279749 L 441.095225 509.490888 L 444.039806 504.626797 L 446.984387 500.827857 L 449.928968 498.240959 L 452.873549 498.566583 L 455.818129 494.713372 L 458.76271 491.601859 L 461.707291 490.064192 L 464.651872 486.174801 L 467.596453 483.300631 L 470.541034 482.468483 L 473.485614 478.343919 L 476.430195 479.501691 L 479.374776 476.245456 L 482.319357 474.146994 L 485.263938 473.170124 L 488.208518 469.913889 L 491.153099 467.128 L 494.09768 464.957177 L 497.042261 465.675719 L 499.986842 465.259645 L 502.931422 466.21336 L 505.876003 459.990334 L 508.820584 460.786302 L 511.765165 459.411447 L 514.709746 458.072773 L 517.654326 457.81951 L 520.598907 453.98439 L 523.543488 452.464814 L 526.488069 451.1985 L 529.43265 451.922108 L 532.37723 451.1985 L 535.321811 450.728155 L 538.266392 450.655794 L 541.210973 449.389481 L 544.155554 449.751285 L 547.100134 446.314148 L 550.044715 445.228737 L 552.989296 444.324227 L 555.933877 443.962423 L 558.878458 444.686031 L 561.823038 442.78439 L 564.767619 442.513037 L 567.7122 442.691768 L 570.656781 440.159141 L 573.601362 440.520945 L 576.545943 439.435534 L 579.490523 438.892828 L 582.435104 438.060679 L 585.379685 436.179299 L 588.324266 435.636593 L 591.268847 434.551182 L 594.213427 435.455691 L 597.158008 434.912986 L 600.102589 433.103967 L 603.04717 431.837653 L 605.991751 431.837653 L 608.936331 431.186406 L 611.880912 431.041685 L 614.825493 430.318077 L 617.770074 429.956273 L 620.714655 428.76232 L 623.659235 428.038713 L 626.603816 427.339708 L 629.548397 426.797002 L 632.492978 425.736193 L 635.437559 425.193487 L 638.382139 425.012585 L 641.32672 424.361339 L 644.271301 423.927174 L 647.215882 423.56537 L 650.160463 421.937253 L 653.105043 422.045794 L 656.049624 422.190515 L 658.994205 421.937253 L 661.938786 421.466908 L 664.883367 421.322186 L 667.827947 421.575449 L 670.772528 421.466908 L 673.717109 421.213645 L 676.66169 420.960382 L 679.606271 420.490037 L 682.550852 420.019692 L 685.495432 419.874971 L 688.440013 419.585528 L 691.384594 419.223724 L 694.329175 418.681018" clip-path="url(#pfe5fba59b9)" style="fill: none; stroke: #ffa500; stroke-width: 1.5; stroke-linecap: square"/>
   </g>
   <g id="line2d_95">
    <path d="M 402.815675 645.141683 L 405.760256 624.588509 L 408.704837 610.276026 L 411.649417 588.975464 L 414.593998 575.97091 L 417.538579 562.032121 L 420.48316 549.550739 L 423.427741 542.776841 L 426.372321 535.902568 L 429.316902 529.751903 L 432.261483 521.611316 L 435.206064 519.802297 L 438.150645 516.907866 L 441.095225 506.958261 L 444.039806 508.405476 L 446.984387 496.39576 L 449.928968 492.578729 L 452.873549 492.506368 L 455.818129 486.717507 L 458.76271 482.938828 L 461.707291 486.195062 L 464.651872 478.958985 L 467.596453 478.235378 L 470.541034 473.893731 L 473.485614 470.637497 L 476.430195 469.552085 L 479.374776 468.285772 L 482.319357 463.763224 L 485.263938 461.954205 L 488.208518 462.207467 L 491.153099 460.145186 L 494.09768 455.260834 L 497.042261 456.938156 L 499.986842 453.953275 L 502.931422 453.550225 L 505.876003 449.932187 L 508.820584 450.474893 L 511.765165 447.942266 L 514.709746 447.39956 L 517.654326 445.771443 L 520.598907 445.879984 L 523.543488 444.686031 L 526.488069 443.419718 L 529.43265 440.959452 L 532.37723 440.706189 L 535.321811 439.078072 L 538.266392 438.89717 L 541.210973 436.364543 L 544.155554 437.196692 L 547.100134 435.460033 L 550.044715 434.19372 L 552.989296 432.746504 L 555.933877 432.131438 L 558.878458 431.841995 L 561.823038 429.63282 L 564.767619 430.392609 L 567.7122 429.305026 L 570.656781 428.400517 L 573.601362 427.78545 L 576.545943 427.061842 L 579.490523 426.121152 L 582.435104 426.229694 L 585.379685 424.601576 L 588.324266 423.877969 L 591.268847 423.443804 L 594.213427 423.226722 L 597.158008 421.634785 L 600.102589 420.694095 L 603.04717 420.332291 L 605.991751 420.25993 L 608.936331 419.825766 L 611.880912 419.463962 L 614.825493 418.812715 L 617.770074 418.631813 L 620.714655 417.727303 L 623.659235 416.822794 L 626.603816 416.069518 L 629.548397 415.581083 L 632.492978 415.316242 L 635.437559 414.339372 L 638.382139 413.724306 L 641.32672 413.253961 L 644.271301 413.362502 L 647.215882 413.073059 L 650.160463 412.421812 L 653.105043 411.806745 L 656.049624 411.625843 L 658.994205 411.083138 L 661.938786 410.902236 L 664.883367 410.721334 L 667.827947 411.625843 L 670.772528 411.625843 L 673.717109 411.083138 L 676.66169 410.829875 L 679.606271 410.35953 L 682.550852 410.106267 L 685.495432 409.744463 L 688.440013 409.274118 L 691.384594 409.38266 L 694.329175 408.912315" clip-path="url(#pfe5fba59b9)" style="fill: none; stroke: #ffff00; stroke-width: 1.5; stroke-linecap: square"/>
   </g>
   <g id="line2d_96">
    <path d="M 402.815675 664.536406 L 405.760256 632.697671 L 408.704837 620.589983 L 411.649417 598.392554 L 414.593998 583.930594 L 417.538579 572.719771 L 420.48316 564.0127 L 423.427741 556.949882 L 426.372321 549.737586 L 429.316902 547.842095 L 432.261483 541.329626 L 435.206064 538.073391 L 438.150645 533.550843 L 441.095225 528.847393 L 444.039806 525.591159 L 446.984387 521.068611 L 449.928968 518.897788 L 452.873549 514.737043 L 455.818129 512.095875 L 458.76271 510.938103 L 461.707291 505.531307 L 464.651872 505.965471 L 467.596453 497.39072 L 470.541034 495.240158 L 473.485614 493.250237 L 476.430195 488.184983 L 479.374776 487.099572 L 482.319357 484.747847 L 485.263938 480.044397 L 488.208518 479.935856 L 491.153099 477.149966 L 494.09768 474.436437 L 497.042261 472.549992 L 499.986842 472.495721 L 502.931422 468.745986 L 505.876003 467.298771 L 508.820584 467.117869 L 511.765165 462.414419 L 514.709746 463.318929 L 517.654326 460.062694 L 520.598907 460.062694 L 523.543488 458.326036 L 526.488069 457.168264 L 529.43265 453.622586 L 532.37723 453.550225 L 535.321811 451.741206 L 538.266392 451.1985 L 541.210973 449.027677 L 544.155554 448.304069 L 547.100134 446.856854 L 550.044715 445.952345 L 552.989296 445.047835 L 555.933877 443.781521 L 558.878458 442.153404 L 561.823038 441.481896 L 564.767619 441.282904 L 567.7122 439.724977 L 570.656781 438.711926 L 573.601362 437.988318 L 576.545943 437.807416 L 579.490523 436.179299 L 582.435104 435.636593 L 585.379685 434.442641 L 588.324266 434.297919 L 591.268847 433.212508 L 594.213427 432.742163 L 597.158008 431.765292 L 600.102589 430.209536 L 603.04717 429.124124 L 605.991751 429.66683 L 608.936331 428.400517 L 611.880912 428.400517 L 614.825493 427.423646 L 617.770074 427.206564 L 620.714655 425.614627 L 623.659235 424.782478 L 626.603816 424.861351 L 629.548397 424.173924 L 632.492978 423.384468 L 635.437559 422.66086 L 638.382139 422.552319 L 641.32672 421.937253 L 644.271301 421.575449 L 647.215882 420.960382 L 650.160463 420.598579 L 653.105043 419.947332 L 656.049624 419.513167 L 658.994205 419.404626 L 661.938786 419.042822 L 664.883367 418.681018 L 667.827947 419.404626 L 670.772528 419.585528 L 673.717109 419.042822 L 676.66169 418.319214 L 679.606271 417.957411 L 682.550852 417.487066 L 685.495432 417.052901 L 688.440013 416.618736 L 691.384594 416.329293 L 694.329175 416.148391" clip-path="url(#pfe5fba59b9)" style="fill: none; stroke: #800080; stroke-width: 1.5; stroke-linecap: square"/>
   </g>
   <g id="patch_21">
    <path d="M 388.24 678.04 L 388.24 381.48" style="fill: none; stroke: #000000; stroke-width: 0.8; stroke-linejoin: miter; stroke-linecap: square"/>
   </g>
   <g id="patch_22">
    <path d="M 708.90485 678.04 L 708.90485 381.48" style="fill: none; stroke: #000000; stroke-width: 0.8; stroke-linejoin: miter; stroke-linecap: square"/>
   </g>
   <g id="patch_23">
    <path d="M 388.24 678.04 L 708.90485 678.04" style="fill: none; stroke: #000000; stroke-width: 0.8; stroke-linejoin: miter; stroke-linecap: square"/>
   </g>
   <g id="patch_24">
    <path d="M 388.24 381.48 L 708.90485 381.48" style="fill: none; stroke: #000000; stroke-width: 0.8; stroke-linejoin: miter; stroke-linecap: square"/>
   </g>
   <g id="text_76">
    <text style="font-size: 12px; font-family: 'DejaVu Sans', 'Liberation Sans', sans-serif; text-anchor: middle" x="548.572425" y="375.48">mAP@[0.5:0.95]</text>
   </g>
   <g id="legend_4">
    <g id="patch_25">
     <path d="M 601.875162 673.04 L 701.90485 673.04 Q 703.90485 673.04 703.90485 671.04 L 703.90485 569.293125 Q 703.90485 567.293125 701.90485 567.293125 L 601.875162 567.293125 Q 599.875162 567.293125 599.875162 569.293125 L 599.875162 671.04 Q 599.875162 673.04 601.875162 673.04 z" style="fill: #ffffff; opacity: 0.8; stroke: #cccccc; stroke-linejoin: miter"/>
    </g>
    <g id="line2d_97">
     <path d="M 603.875162 575.391563 L 613.875162 575.391563 L 623.875162 575.391563" style="fill: none; stroke: #000000; stroke-width: 1.5; stroke-linecap: square"/>
    </g>
    <g id="text_77">
     <text style="font-size: 10px; font-family: 'DejaVu Sans', 'Liberation Sans', sans-serif; text-anchor: start" x="631.875162" y="578.891563">DyAqua-YOLO</text>
    </g>
    <g id="line2d_98">
     <path d="M 603.875162 590.069688 L 613.875162 590.069688 L 623.875162 590.069688" style="fill: none; stroke: #008000; stroke-width: 1.5; stroke-linecap: square"/>
    </g>
    <g id="text_78">
     <text style="font-size: 10px; font-family: 'DejaVu Sans', 'Liberation Sans', sans-serif; text-anchor: start" x="631.875162" y="593.569688">YOLOv5n</text>
    </g>
    <g id="line2d_99">
     <path d="M 603.875162 604.747813 L 613.875162 604.747813 L 623.875162 604.747813" style="fill: none; stroke: #0000ff; stroke-width: 1.5; stroke-linecap: square"/>
    </g>
    <g id="text_79">
     <text style="font-size: 10px; font-family: 'DejaVu Sans', 'Liberation Sans', sans-serif; text-anchor: start" x="631.875162" y="608.247813">YOLOv6n</text>
    </g>
    <g id="line2d_100">
     <path d="M 603.875162 619.425938 L 613.875162 619.425938 L 623.875162 619.425938" style="fill: none; stroke: #ff0000; stroke-width: 1.5; stroke-linecap: square"/>
    </g>
    <g id="text_80">
     <text style="font-size: 10px; font-family: 'DejaVu Sans', 'Liberation Sans', sans-serif; text-anchor: start" x="631.875162" y="622.925938">YOLOv8n</text>
    </g>
    <g id="line2d_101">
     <path d="M 603.875162 634.104063 L 613.875162 634.104063 L 623.875162 634.104063" style="fill: none; stroke: #ffa500; stroke-width: 1.5; stroke-linecap: square"/>
    </g>
    <g id="text_81">
     <text style="font-size: 10px; font-family: 'DejaVu Sans', 'Liberation Sans', sans-serif; text-anchor: start" x="631.875162" y="637.604063">YOLOv10n</text>
    </g>
    <g id="line2d_102">
     <path d="M 603.875162 648.782188 L 613.875162 648.782188 L 623.875162 648.782188" style="fill: none; stroke: #ffff00; stroke-width: 1.5; stroke-linecap: square"/>
    </g>
    <g id="text_82">
     <text style="font-size: 10px; font-family: 'DejaVu Sans', 'Liberation Sans', sans-serif; text-anchor: start" x="631.875162" y="652.282188">YOLO11n</text>
    </g>
    <g id="line2d_103">
     <path d="M 603.875162 663.460313 L 613.875162 663.460313 L 623.875162 663.460313" style="fill: none; stroke: #800080; stroke-width: 1.5; stroke-linecap: square"/>
    </g>
    <g id="text_83">
     <text style="font-size: 10px; font-family: 'DejaVu Sans', 'Liberation Sans', sans-serif; text-anchor: start" x="631.875162" y="666.960313">YOLOv12n</text>
    </g>
   </g>
  </g>
 </g>
 <defs>
  <clipPath id="pc35a1a3ecf">
   <rect x="33.64" y="26.88" width="320.66485" height="296.56"/>
  </clipPath>
  <clipPath id="pb6339436a7">
   <rect x="388.24" y="26.88" width="320.66485" height="296.56"/>
  </clipPath>
  <clipPath id="pa387249293">
   <rect x="33.64" y="381.48" width="320.66485" height="296.56"/>
  </clipPath>
  <clipPath id="pfe5fba59b9">
   <rect x="388.24" y="381.48" width="320.66485" height="296.56"/>
  </clipPath>
 </defs>
</svg>

</body>
</html>
